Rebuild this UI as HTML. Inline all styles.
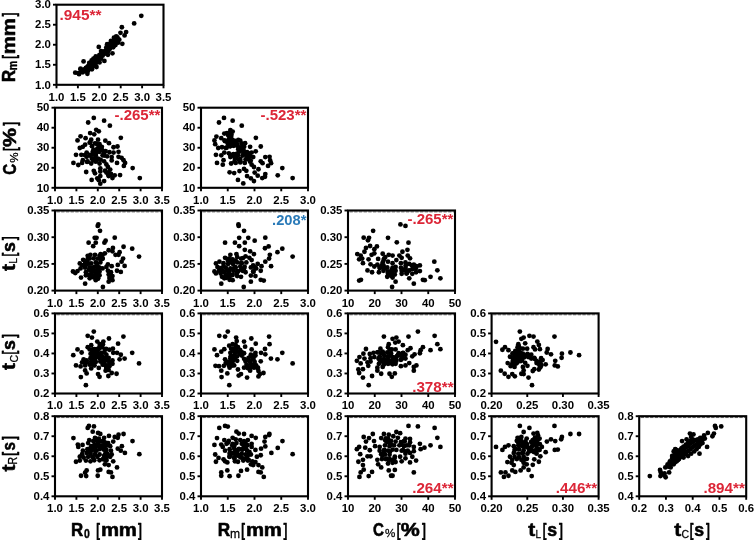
<!DOCTYPE html><html><head><meta charset="utf-8"><title>Scatterplot matrix</title><style>html,body{margin:0;padding:0;background:#fff}svg{display:block;will-change:transform}</style></head><body><svg width="754" height="540" viewBox="0 0 754 540">
<rect width="754" height="540" fill="#fff"/>
<g font-family="Liberation Sans, sans-serif" font-weight="bold" fill="#000">
<g>
<circle cx="141.30" cy="15.84" r="2.4"/>
<circle cx="134.16" cy="23.44" r="2.4"/>
<circle cx="121.86" cy="27.23" r="2.4"/>
<circle cx="126.11" cy="32.09" r="2.4"/>
<circle cx="120.49" cy="32.85" r="2.4"/>
<circle cx="124.59" cy="35.43" r="2.4"/>
<circle cx="116.24" cy="36.34" r="2.4"/>
<circle cx="113.96" cy="37.71" r="2.4"/>
<circle cx="119.28" cy="39.69" r="2.4"/>
<circle cx="122.31" cy="43.79" r="2.4"/>
<circle cx="118.06" cy="42.72" r="2.4"/>
<circle cx="110.93" cy="40.90" r="2.4"/>
<circle cx="115.48" cy="45.00" r="2.4"/>
<circle cx="107.13" cy="44.24" r="2.4"/>
<circle cx="113.20" cy="47.28" r="2.4"/>
<circle cx="98.78" cy="46.97" r="2.4"/>
<circle cx="109.41" cy="49.56" r="2.4"/>
<circle cx="112.44" cy="53.35" r="2.4"/>
<circle cx="105.61" cy="51.07" r="2.4"/>
<circle cx="101.06" cy="51.07" r="2.4"/>
<circle cx="107.89" cy="54.87" r="2.4"/>
<circle cx="103.79" cy="54.11" r="2.4"/>
<circle cx="99.54" cy="54.87" r="2.4"/>
<circle cx="95.74" cy="56.39" r="2.4"/>
<circle cx="104.40" cy="60.94" r="2.4"/>
<circle cx="101.06" cy="58.67" r="2.4"/>
<circle cx="97.26" cy="59.43" r="2.4"/>
<circle cx="93.46" cy="58.67" r="2.4"/>
<circle cx="83.59" cy="61.40" r="2.4"/>
<circle cx="91.94" cy="62.46" r="2.4"/>
<circle cx="95.74" cy="63.22" r="2.4"/>
<circle cx="99.54" cy="62.46" r="2.4"/>
<circle cx="89.67" cy="64.74" r="2.4"/>
<circle cx="93.46" cy="66.26" r="2.4"/>
<circle cx="87.39" cy="67.02" r="2.4"/>
<circle cx="96.50" cy="67.02" r="2.4"/>
<circle cx="80.56" cy="68.54" r="2.4"/>
<circle cx="84.35" cy="69.30" r="2.4"/>
<circle cx="88.15" cy="70.81" r="2.4"/>
<circle cx="91.94" cy="69.30" r="2.4"/>
<circle cx="75.24" cy="72.64" r="2.4"/>
<circle cx="79.04" cy="74.16" r="2.4"/>
<circle cx="82.83" cy="72.33" r="2.4"/>
<circle cx="87.39" cy="73.85" r="2.4"/>
<circle cx="85.87" cy="70.81" r="2.4"/>
<circle cx="78.28" cy="73.09" r="2.4"/>
<circle cx="81.31" cy="71.57" r="2.4"/>
<circle cx="83.59" cy="70.06" r="2.4"/>
<circle cx="85.87" cy="67.78" r="2.4"/>
<circle cx="88.15" cy="66.26" r="2.4"/>
<circle cx="90.43" cy="63.98" r="2.4"/>
<circle cx="92.70" cy="61.70" r="2.4"/>
<circle cx="94.98" cy="59.88" r="2.4"/>
<circle cx="97.26" cy="57.45" r="2.4"/>
<circle cx="99.54" cy="55.63" r="2.4"/>
<circle cx="101.81" cy="53.35" r="2.4"/>
<circle cx="104.09" cy="51.38" r="2.4"/>
<circle cx="106.37" cy="49.25" r="2.4"/>
<circle cx="108.65" cy="47.28" r="2.4"/>
<circle cx="110.93" cy="45.00" r="2.4"/>
<circle cx="113.20" cy="42.72" r="2.4"/>
<circle cx="115.48" cy="40.44" r="2.4"/>
<circle cx="90.43" cy="67.78" r="2.4"/>
<circle cx="92.70" cy="65.50" r="2.4"/>
<circle cx="94.98" cy="64.74" r="2.4"/>
<circle cx="98.02" cy="61.70" r="2.4"/>
<circle cx="101.06" cy="56.39" r="2.4"/>
<circle cx="102.57" cy="55.63" r="2.4"/>
<circle cx="105.61" cy="53.35" r="2.4"/>
<circle cx="107.89" cy="51.83" r="2.4"/>
<circle cx="110.17" cy="48.04" r="2.4"/>
<circle cx="111.99" cy="46.52" r="2.4"/>
<circle cx="114.42" cy="43.79" r="2.4"/>
<circle cx="116.54" cy="41.96" r="2.4"/>
<circle cx="91.64" cy="60.49" r="2.4"/>
<circle cx="89.21" cy="62.92" r="2.4"/>
<circle cx="95.29" cy="57.91" r="2.4"/>
<circle cx="101.06" cy="54.11" r="2.4"/>
<circle cx="106.37" cy="47.28" r="2.4"/>
<circle cx="108.65" cy="44.24" r="2.4"/>
<circle cx="111.69" cy="41.96" r="2.4"/>
<circle cx="114.72" cy="39.23" r="2.4"/>
<circle cx="117.46" cy="37.41" r="2.4"/>
<circle cx="91.32" cy="65.73" r="2.4"/>
<circle cx="116.06" cy="40.73" r="2.4"/>
<circle cx="115.10" cy="38.47" r="2.4"/>
<circle cx="80.51" cy="69.36" r="2.4"/>
</g>
<rect x="56.50" y="4.70" width="107.00" height="80.10" fill="none" stroke="#000" stroke-width="2.1"/>
<line x1="56.50" y1="85.30" x2="56.50" y2="88.30" stroke="#000" stroke-width="1.9"/>
<text x="56.50" y="100.70" font-size="11.4" text-anchor="middle">1.0</text>
<line x1="77.90" y1="85.30" x2="77.90" y2="88.30" stroke="#000" stroke-width="1.9"/>
<text x="77.90" y="100.70" font-size="11.4" text-anchor="middle">1.5</text>
<line x1="99.30" y1="85.30" x2="99.30" y2="88.30" stroke="#000" stroke-width="1.9"/>
<text x="99.30" y="100.70" font-size="11.4" text-anchor="middle">2.0</text>
<line x1="120.70" y1="85.30" x2="120.70" y2="88.30" stroke="#000" stroke-width="1.9"/>
<text x="120.70" y="100.70" font-size="11.4" text-anchor="middle">2.5</text>
<line x1="142.10" y1="85.30" x2="142.10" y2="88.30" stroke="#000" stroke-width="1.9"/>
<text x="142.10" y="100.70" font-size="11.4" text-anchor="middle">3.0</text>
<line x1="163.50" y1="85.30" x2="163.50" y2="88.30" stroke="#000" stroke-width="1.9"/>
<text x="163.50" y="100.70" font-size="11.4" text-anchor="middle">3.5</text>
<line x1="56.00" y1="84.80" x2="53.00" y2="84.80" stroke="#000" stroke-width="1.9"/>
<text x="50.90" y="88.50" font-size="11.4" text-anchor="end">1.0</text>
<line x1="56.00" y1="64.78" x2="53.00" y2="64.78" stroke="#000" stroke-width="1.9"/>
<text x="50.90" y="68.48" font-size="11.4" text-anchor="end">1.5</text>
<line x1="56.00" y1="44.75" x2="53.00" y2="44.75" stroke="#000" stroke-width="1.9"/>
<text x="50.90" y="48.45" font-size="11.4" text-anchor="end">2.0</text>
<line x1="56.00" y1="24.73" x2="53.00" y2="24.73" stroke="#000" stroke-width="1.9"/>
<text x="50.90" y="28.43" font-size="11.4" text-anchor="end">2.5</text>
<line x1="56.00" y1="4.70" x2="53.00" y2="4.70" stroke="#000" stroke-width="1.9"/>
<text x="50.90" y="8.40" font-size="11.4" text-anchor="end">3.0</text>
<text x="59.50" y="19.60" font-size="15.4" fill="#dc2637">.945**</text>
<g>
<circle cx="93.79" cy="117.93" r="2.4"/>
<circle cx="88.17" cy="122.49" r="2.4"/>
<circle cx="104.11" cy="120.67" r="2.4"/>
<circle cx="109.88" cy="125.68" r="2.4"/>
<circle cx="120.81" cy="137.83" r="2.4"/>
<circle cx="96.21" cy="129.78" r="2.4"/>
<circle cx="98.80" cy="131.30" r="2.4"/>
<circle cx="90.14" cy="133.12" r="2.4"/>
<circle cx="94.24" cy="134.33" r="2.4"/>
<circle cx="80.57" cy="136.31" r="2.4"/>
<circle cx="85.59" cy="138.13" r="2.4"/>
<circle cx="77.54" cy="140.41" r="2.4"/>
<circle cx="91.20" cy="139.65" r="2.4"/>
<circle cx="98.04" cy="139.65" r="2.4"/>
<circle cx="105.33" cy="140.71" r="2.4"/>
<circle cx="108.97" cy="143.14" r="2.4"/>
<circle cx="89.69" cy="142.69" r="2.4"/>
<circle cx="95.00" cy="143.44" r="2.4"/>
<circle cx="99.56" cy="144.20" r="2.4"/>
<circle cx="85.13" cy="144.66" r="2.4"/>
<circle cx="82.85" cy="146.79" r="2.4"/>
<circle cx="79.81" cy="148.00" r="2.4"/>
<circle cx="91.96" cy="146.18" r="2.4"/>
<circle cx="101.83" cy="146.79" r="2.4"/>
<circle cx="113.53" cy="147.24" r="2.4"/>
<circle cx="117.47" cy="146.48" r="2.4"/>
<circle cx="97.28" cy="148.76" r="2.4"/>
<circle cx="118.54" cy="151.80" r="2.4"/>
<circle cx="105.63" cy="151.04" r="2.4"/>
<circle cx="109.43" cy="152.25" r="2.4"/>
<circle cx="113.53" cy="152.56" r="2.4"/>
<circle cx="99.56" cy="151.80" r="2.4"/>
<circle cx="92.72" cy="151.80" r="2.4"/>
<circle cx="86.65" cy="152.56" r="2.4"/>
<circle cx="81.33" cy="154.83" r="2.4"/>
<circle cx="76.02" cy="154.83" r="2.4"/>
<circle cx="89.69" cy="154.83" r="2.4"/>
<circle cx="95.76" cy="155.59" r="2.4"/>
<circle cx="102.59" cy="155.29" r="2.4"/>
<circle cx="107.15" cy="156.35" r="2.4"/>
<circle cx="111.70" cy="157.11" r="2.4"/>
<circle cx="118.54" cy="156.81" r="2.4"/>
<circle cx="121.57" cy="157.87" r="2.4"/>
<circle cx="86.65" cy="156.81" r="2.4"/>
<circle cx="91.96" cy="158.63" r="2.4"/>
<circle cx="98.04" cy="158.63" r="2.4"/>
<circle cx="82.85" cy="160.15" r="2.4"/>
<circle cx="73.44" cy="162.88" r="2.4"/>
<circle cx="82.09" cy="162.88" r="2.4"/>
<circle cx="78.30" cy="165.01" r="2.4"/>
<circle cx="87.10" cy="161.97" r="2.4"/>
<circle cx="91.20" cy="163.49" r="2.4"/>
<circle cx="95.76" cy="161.67" r="2.4"/>
<circle cx="99.56" cy="163.49" r="2.4"/>
<circle cx="104.11" cy="161.36" r="2.4"/>
<circle cx="106.39" cy="164.40" r="2.4"/>
<circle cx="111.70" cy="160.45" r="2.4"/>
<circle cx="117.02" cy="162.88" r="2.4"/>
<circle cx="123.55" cy="160.15" r="2.4"/>
<circle cx="125.07" cy="162.88" r="2.4"/>
<circle cx="123.85" cy="165.92" r="2.4"/>
<circle cx="132.66" cy="168.04" r="2.4"/>
<circle cx="139.80" cy="178.07" r="2.4"/>
<circle cx="107.91" cy="166.98" r="2.4"/>
<circle cx="110.19" cy="169.56" r="2.4"/>
<circle cx="100.31" cy="168.50" r="2.4"/>
<circle cx="100.31" cy="171.54" r="2.4"/>
<circle cx="93.79" cy="170.78" r="2.4"/>
<circle cx="95.00" cy="173.36" r="2.4"/>
<circle cx="86.19" cy="171.99" r="2.4"/>
<circle cx="106.39" cy="172.60" r="2.4"/>
<circle cx="110.94" cy="173.81" r="2.4"/>
<circle cx="114.74" cy="175.33" r="2.4"/>
<circle cx="120.06" cy="175.03" r="2.4"/>
<circle cx="108.67" cy="176.09" r="2.4"/>
<circle cx="112.46" cy="178.07" r="2.4"/>
<circle cx="100.31" cy="176.09" r="2.4"/>
<circle cx="97.28" cy="178.37" r="2.4"/>
<circle cx="91.66" cy="179.89" r="2.4"/>
<circle cx="98.80" cy="180.19" r="2.4"/>
<circle cx="104.11" cy="181.10" r="2.4"/>
<circle cx="100.31" cy="183.69" r="2.4"/>
<circle cx="99.44" cy="148.49" r="2.4"/>
<circle cx="110.44" cy="174.73" r="2.4"/>
<circle cx="92.59" cy="154.68" r="2.4"/>
<circle cx="104.32" cy="155.48" r="2.4"/>
<circle cx="96.91" cy="150.63" r="2.4"/>
<circle cx="87.61" cy="161.44" r="2.4"/>
<circle cx="94.65" cy="159.10" r="2.4"/>
<circle cx="96.31" cy="143.65" r="2.4"/>
<circle cx="98.59" cy="145.72" r="2.4"/>
<circle cx="102.21" cy="150.17" r="2.4"/>
<circle cx="93.48" cy="149.57" r="2.4"/>
<circle cx="105.05" cy="170.75" r="2.4"/>
<circle cx="96.47" cy="160.42" r="2.4"/>
<circle cx="84.75" cy="155.08" r="2.4"/>
<circle cx="93.55" cy="160.40" r="2.4"/>
<circle cx="108.42" cy="172.30" r="2.4"/>
<circle cx="100.62" cy="159.68" r="2.4"/>
<circle cx="108.19" cy="174.67" r="2.4"/>
<circle cx="90.30" cy="142.24" r="2.4"/>
<circle cx="89.77" cy="155.48" r="2.4"/>
<circle cx="103.94" cy="153.30" r="2.4"/>
<circle cx="96.09" cy="153.57" r="2.4"/>
<circle cx="98.92" cy="151.39" r="2.4"/>
<circle cx="95.34" cy="155.60" r="2.4"/>
</g>
<rect x="55.00" y="107.70" width="107.00" height="80.10" fill="none" stroke="#000" stroke-width="2.1"/>
<line x1="55.00" y1="188.30" x2="55.00" y2="191.30" stroke="#000" stroke-width="1.9"/>
<text x="55.00" y="203.70" font-size="11.4" text-anchor="middle">1.0</text>
<line x1="76.40" y1="188.30" x2="76.40" y2="191.30" stroke="#000" stroke-width="1.9"/>
<text x="76.40" y="203.70" font-size="11.4" text-anchor="middle">1.5</text>
<line x1="97.80" y1="188.30" x2="97.80" y2="191.30" stroke="#000" stroke-width="1.9"/>
<text x="97.80" y="203.70" font-size="11.4" text-anchor="middle">2.0</text>
<line x1="119.20" y1="188.30" x2="119.20" y2="191.30" stroke="#000" stroke-width="1.9"/>
<text x="119.20" y="203.70" font-size="11.4" text-anchor="middle">2.5</text>
<line x1="140.60" y1="188.30" x2="140.60" y2="191.30" stroke="#000" stroke-width="1.9"/>
<text x="140.60" y="203.70" font-size="11.4" text-anchor="middle">3.0</text>
<line x1="162.00" y1="188.30" x2="162.00" y2="191.30" stroke="#000" stroke-width="1.9"/>
<text x="162.00" y="203.70" font-size="11.4" text-anchor="middle">3.5</text>
<line x1="54.50" y1="187.80" x2="51.50" y2="187.80" stroke="#000" stroke-width="1.9"/>
<text x="49.40" y="191.50" font-size="11.4" text-anchor="end">10</text>
<line x1="54.50" y1="167.78" x2="51.50" y2="167.78" stroke="#000" stroke-width="1.9"/>
<text x="49.40" y="171.47" font-size="11.4" text-anchor="end">20</text>
<line x1="54.50" y1="147.75" x2="51.50" y2="147.75" stroke="#000" stroke-width="1.9"/>
<text x="49.40" y="151.45" font-size="11.4" text-anchor="end">30</text>
<line x1="54.50" y1="127.73" x2="51.50" y2="127.73" stroke="#000" stroke-width="1.9"/>
<text x="49.40" y="131.43" font-size="11.4" text-anchor="end">40</text>
<line x1="54.50" y1="107.70" x2="51.50" y2="107.70" stroke="#000" stroke-width="1.9"/>
<text x="49.40" y="111.40" font-size="11.4" text-anchor="end">50</text>
<text x="160.40" y="120.10" font-size="15.0" fill="#dc2637" text-anchor="end">-.265**</text>
<g>
<circle cx="223.99" cy="117.93" r="2.4"/>
<circle cx="218.98" cy="122.49" r="2.4"/>
<circle cx="232.65" cy="120.67" r="2.4"/>
<circle cx="241.76" cy="125.68" r="2.4"/>
<circle cx="255.88" cy="137.83" r="2.4"/>
<circle cx="230.37" cy="130.08" r="2.4"/>
<circle cx="232.65" cy="131.60" r="2.4"/>
<circle cx="224.30" cy="133.57" r="2.4"/>
<circle cx="228.09" cy="135.09" r="2.4"/>
<circle cx="216.40" cy="136.61" r="2.4"/>
<circle cx="221.26" cy="138.13" r="2.4"/>
<circle cx="214.43" cy="140.41" r="2.4"/>
<circle cx="215.19" cy="144.20" r="2.4"/>
<circle cx="225.06" cy="141.17" r="2.4"/>
<circle cx="231.89" cy="139.65" r="2.4"/>
<circle cx="235.69" cy="141.93" r="2.4"/>
<circle cx="240.24" cy="140.71" r="2.4"/>
<circle cx="245.10" cy="143.14" r="2.4"/>
<circle cx="228.09" cy="143.44" r="2.4"/>
<circle cx="232.65" cy="144.96" r="2.4"/>
<circle cx="237.20" cy="145.72" r="2.4"/>
<circle cx="250.11" cy="146.79" r="2.4"/>
<circle cx="260.74" cy="146.48" r="2.4"/>
<circle cx="218.22" cy="148.00" r="2.4"/>
<circle cx="222.02" cy="147.24" r="2.4"/>
<circle cx="226.57" cy="147.70" r="2.4"/>
<circle cx="238.72" cy="148.76" r="2.4"/>
<circle cx="243.28" cy="151.04" r="2.4"/>
<circle cx="247.07" cy="152.25" r="2.4"/>
<circle cx="251.63" cy="152.56" r="2.4"/>
<circle cx="255.73" cy="151.34" r="2.4"/>
<circle cx="224.30" cy="152.56" r="2.4"/>
<circle cx="228.85" cy="153.31" r="2.4"/>
<circle cx="215.94" cy="154.83" r="2.4"/>
<circle cx="221.26" cy="155.29" r="2.4"/>
<circle cx="233.41" cy="154.07" r="2.4"/>
<circle cx="237.96" cy="155.29" r="2.4"/>
<circle cx="242.52" cy="155.59" r="2.4"/>
<circle cx="248.59" cy="155.90" r="2.4"/>
<circle cx="253.15" cy="157.11" r="2.4"/>
<circle cx="265.30" cy="157.11" r="2.4"/>
<circle cx="269.55" cy="156.81" r="2.4"/>
<circle cx="230.37" cy="157.11" r="2.4"/>
<circle cx="234.93" cy="158.63" r="2.4"/>
<circle cx="240.24" cy="158.93" r="2.4"/>
<circle cx="245.56" cy="159.39" r="2.4"/>
<circle cx="223.54" cy="160.15" r="2.4"/>
<circle cx="217.01" cy="162.88" r="2.4"/>
<circle cx="222.78" cy="164.70" r="2.4"/>
<circle cx="231.13" cy="163.49" r="2.4"/>
<circle cx="235.69" cy="162.88" r="2.4"/>
<circle cx="240.24" cy="162.43" r="2.4"/>
<circle cx="244.80" cy="162.88" r="2.4"/>
<circle cx="250.11" cy="161.67" r="2.4"/>
<circle cx="251.63" cy="164.70" r="2.4"/>
<circle cx="260.74" cy="161.36" r="2.4"/>
<circle cx="262.56" cy="163.19" r="2.4"/>
<circle cx="270.16" cy="160.45" r="2.4"/>
<circle cx="271.07" cy="163.19" r="2.4"/>
<circle cx="268.03" cy="165.92" r="2.4"/>
<circle cx="282.30" cy="168.04" r="2.4"/>
<circle cx="292.63" cy="178.07" r="2.4"/>
<circle cx="277.75" cy="175.33" r="2.4"/>
<circle cx="253.91" cy="166.98" r="2.4"/>
<circle cx="258.46" cy="169.26" r="2.4"/>
<circle cx="244.04" cy="168.96" r="2.4"/>
<circle cx="246.31" cy="170.78" r="2.4"/>
<circle cx="239.48" cy="171.08" r="2.4"/>
<circle cx="234.17" cy="173.06" r="2.4"/>
<circle cx="229.61" cy="172.30" r="2.4"/>
<circle cx="254.67" cy="172.60" r="2.4"/>
<circle cx="257.70" cy="175.64" r="2.4"/>
<circle cx="262.26" cy="178.07" r="2.4"/>
<circle cx="265.30" cy="174.12" r="2.4"/>
<circle cx="264.99" cy="176.85" r="2.4"/>
<circle cx="247.07" cy="176.09" r="2.4"/>
<circle cx="250.87" cy="178.37" r="2.4"/>
<circle cx="237.96" cy="179.89" r="2.4"/>
<circle cx="253.91" cy="181.10" r="2.4"/>
<circle cx="243.28" cy="183.38" r="2.4"/>
<circle cx="229.17" cy="132.92" r="2.4"/>
<circle cx="230.00" cy="135.83" r="2.4"/>
<circle cx="228.75" cy="139.17" r="2.4"/>
<circle cx="232.50" cy="140.00" r="2.4"/>
<circle cx="227.50" cy="142.50" r="2.4"/>
<circle cx="230.83" cy="143.33" r="2.4"/>
<circle cx="234.17" cy="142.50" r="2.4"/>
<circle cx="236.67" cy="141.67" r="2.4"/>
<circle cx="233.75" cy="145.83" r="2.4"/>
<circle cx="230.00" cy="146.25" r="2.4"/>
<circle cx="237.50" cy="145.00" r="2.4"/>
<circle cx="240.00" cy="148.33" r="2.4"/>
<circle cx="225.83" cy="147.92" r="2.4"/>
<circle cx="238.33" cy="140.00" r="2.4"/>
<circle cx="241.67" cy="143.33" r="2.4"/>
<circle cx="244.17" cy="146.67" r="2.4"/>
<circle cx="242.50" cy="150.00" r="2.4"/>
<circle cx="239.17" cy="151.67" r="2.4"/>
<circle cx="232.77" cy="145.10" r="2.4"/>
<circle cx="230.99" cy="136.57" r="2.4"/>
<circle cx="230.64" cy="140.96" r="2.4"/>
<circle cx="230.59" cy="155.23" r="2.4"/>
<circle cx="241.59" cy="147.21" r="2.4"/>
<circle cx="228.20" cy="141.41" r="2.4"/>
<circle cx="229.59" cy="143.00" r="2.4"/>
<circle cx="230.43" cy="146.04" r="2.4"/>
<circle cx="243.58" cy="150.27" r="2.4"/>
<circle cx="236.56" cy="153.92" r="2.4"/>
<circle cx="246.83" cy="156.71" r="2.4"/>
<circle cx="234.50" cy="161.56" r="2.4"/>
<circle cx="239.21" cy="147.69" r="2.4"/>
<circle cx="228.25" cy="144.22" r="2.4"/>
<circle cx="231.46" cy="134.72" r="2.4"/>
<circle cx="249.82" cy="155.99" r="2.4"/>
<circle cx="232.15" cy="141.00" r="2.4"/>
<circle cx="229.63" cy="139.70" r="2.4"/>
<circle cx="234.48" cy="143.04" r="2.4"/>
<circle cx="232.17" cy="155.70" r="2.4"/>
<circle cx="233.45" cy="154.41" r="2.4"/>
<circle cx="245.65" cy="154.77" r="2.4"/>
<circle cx="235.94" cy="155.63" r="2.4"/>
<circle cx="238.30" cy="149.26" r="2.4"/>
<circle cx="239.06" cy="151.37" r="2.4"/>
<circle cx="228.48" cy="134.50" r="2.4"/>
<circle cx="249.30" cy="153.32" r="2.4"/>
<circle cx="243.32" cy="153.10" r="2.4"/>
<circle cx="239.28" cy="160.27" r="2.4"/>
<circle cx="226.94" cy="133.14" r="2.4"/>
<circle cx="240.43" cy="161.38" r="2.4"/>
<circle cx="224.59" cy="140.48" r="2.4"/>
<circle cx="235.13" cy="140.89" r="2.4"/>
<circle cx="248.35" cy="159.31" r="2.4"/>
<circle cx="236.48" cy="157.93" r="2.4"/>
<circle cx="250.70" cy="160.50" r="2.4"/>
</g>
<rect x="201.00" y="107.70" width="107.00" height="80.10" fill="none" stroke="#000" stroke-width="2.1"/>
<line x1="201.00" y1="188.30" x2="201.00" y2="191.30" stroke="#000" stroke-width="1.9"/>
<text x="201.00" y="203.70" font-size="11.4" text-anchor="middle">1.0</text>
<line x1="227.75" y1="188.30" x2="227.75" y2="191.30" stroke="#000" stroke-width="1.9"/>
<text x="227.75" y="203.70" font-size="11.4" text-anchor="middle">1.5</text>
<line x1="254.50" y1="188.30" x2="254.50" y2="191.30" stroke="#000" stroke-width="1.9"/>
<text x="254.50" y="203.70" font-size="11.4" text-anchor="middle">2.0</text>
<line x1="281.25" y1="188.30" x2="281.25" y2="191.30" stroke="#000" stroke-width="1.9"/>
<text x="281.25" y="203.70" font-size="11.4" text-anchor="middle">2.5</text>
<line x1="308.00" y1="188.30" x2="308.00" y2="191.30" stroke="#000" stroke-width="1.9"/>
<text x="308.00" y="203.70" font-size="11.4" text-anchor="middle">3.0</text>
<line x1="200.50" y1="187.80" x2="197.50" y2="187.80" stroke="#000" stroke-width="1.9"/>
<text x="195.40" y="191.50" font-size="11.4" text-anchor="end">10</text>
<line x1="200.50" y1="167.78" x2="197.50" y2="167.78" stroke="#000" stroke-width="1.9"/>
<text x="195.40" y="171.47" font-size="11.4" text-anchor="end">20</text>
<line x1="200.50" y1="147.75" x2="197.50" y2="147.75" stroke="#000" stroke-width="1.9"/>
<text x="195.40" y="151.45" font-size="11.4" text-anchor="end">30</text>
<line x1="200.50" y1="127.73" x2="197.50" y2="127.73" stroke="#000" stroke-width="1.9"/>
<text x="195.40" y="131.43" font-size="11.4" text-anchor="end">40</text>
<line x1="200.50" y1="107.70" x2="197.50" y2="107.70" stroke="#000" stroke-width="1.9"/>
<text x="195.40" y="111.40" font-size="11.4" text-anchor="end">50</text>
<text x="306.40" y="120.20" font-size="15.0" fill="#dc2637" text-anchor="end">-.523**</text>
<g>
<circle cx="98.34" cy="224.43" r="2.4"/>
<circle cx="97.73" cy="225.94" r="2.4"/>
<circle cx="100.01" cy="230.80" r="2.4"/>
<circle cx="114.74" cy="237.64" r="2.4"/>
<circle cx="94.70" cy="237.79" r="2.4"/>
<circle cx="96.52" cy="237.79" r="2.4"/>
<circle cx="105.63" cy="240.67" r="2.4"/>
<circle cx="104.41" cy="242.65" r="2.4"/>
<circle cx="88.62" cy="242.65" r="2.4"/>
<circle cx="95.76" cy="242.65" r="2.4"/>
<circle cx="93.18" cy="246.14" r="2.4"/>
<circle cx="123.55" cy="246.75" r="2.4"/>
<circle cx="132.20" cy="248.72" r="2.4"/>
<circle cx="139.04" cy="256.62" r="2.4"/>
<circle cx="112.92" cy="247.96" r="2.4"/>
<circle cx="108.67" cy="250.24" r="2.4"/>
<circle cx="112.46" cy="251.30" r="2.4"/>
<circle cx="119.60" cy="252.21" r="2.4"/>
<circle cx="115.50" cy="254.80" r="2.4"/>
<circle cx="118.54" cy="254.80" r="2.4"/>
<circle cx="104.87" cy="253.28" r="2.4"/>
<circle cx="102.59" cy="254.80" r="2.4"/>
<circle cx="99.56" cy="255.56" r="2.4"/>
<circle cx="95.00" cy="254.80" r="2.4"/>
<circle cx="90.44" cy="254.80" r="2.4"/>
<circle cx="87.71" cy="255.86" r="2.4"/>
<circle cx="123.09" cy="258.59" r="2.4"/>
<circle cx="121.57" cy="261.63" r="2.4"/>
<circle cx="102.59" cy="258.59" r="2.4"/>
<circle cx="98.04" cy="258.59" r="2.4"/>
<circle cx="93.79" cy="258.29" r="2.4"/>
<circle cx="89.69" cy="258.59" r="2.4"/>
<circle cx="83.16" cy="259.81" r="2.4"/>
<circle cx="85.89" cy="261.63" r="2.4"/>
<circle cx="79.81" cy="263.45" r="2.4"/>
<circle cx="82.09" cy="265.43" r="2.4"/>
<circle cx="86.65" cy="264.67" r="2.4"/>
<circle cx="91.20" cy="263.45" r="2.4"/>
<circle cx="95.76" cy="262.39" r="2.4"/>
<circle cx="100.31" cy="262.39" r="2.4"/>
<circle cx="107.91" cy="264.36" r="2.4"/>
<circle cx="111.70" cy="266.19" r="2.4"/>
<circle cx="106.39" cy="266.94" r="2.4"/>
<circle cx="117.78" cy="264.97" r="2.4"/>
<circle cx="124.61" cy="265.88" r="2.4"/>
<circle cx="80.57" cy="268.46" r="2.4"/>
<circle cx="85.13" cy="267.70" r="2.4"/>
<circle cx="89.69" cy="267.40" r="2.4"/>
<circle cx="94.24" cy="266.94" r="2.4"/>
<circle cx="98.80" cy="267.40" r="2.4"/>
<circle cx="102.59" cy="268.46" r="2.4"/>
<circle cx="72.98" cy="271.50" r="2.4"/>
<circle cx="77.54" cy="271.04" r="2.4"/>
<circle cx="75.26" cy="273.02" r="2.4"/>
<circle cx="85.89" cy="272.26" r="2.4"/>
<circle cx="90.44" cy="270.74" r="2.4"/>
<circle cx="95.00" cy="270.74" r="2.4"/>
<circle cx="99.56" cy="271.50" r="2.4"/>
<circle cx="107.91" cy="270.74" r="2.4"/>
<circle cx="110.94" cy="272.26" r="2.4"/>
<circle cx="117.02" cy="270.74" r="2.4"/>
<circle cx="120.81" cy="271.96" r="2.4"/>
<circle cx="85.89" cy="275.30" r="2.4"/>
<circle cx="91.20" cy="274.54" r="2.4"/>
<circle cx="95.76" cy="274.54" r="2.4"/>
<circle cx="99.56" cy="275.30" r="2.4"/>
<circle cx="108.67" cy="274.54" r="2.4"/>
<circle cx="112.46" cy="276.06" r="2.4"/>
<circle cx="81.03" cy="277.57" r="2.4"/>
<circle cx="89.69" cy="278.33" r="2.4"/>
<circle cx="94.24" cy="277.57" r="2.4"/>
<circle cx="98.04" cy="278.33" r="2.4"/>
<circle cx="109.43" cy="278.03" r="2.4"/>
<circle cx="112.46" cy="280.16" r="2.4"/>
<circle cx="95.76" cy="280.16" r="2.4"/>
<circle cx="108.67" cy="281.67" r="2.4"/>
<circle cx="85.13" cy="283.65" r="2.4"/>
<circle cx="102.90" cy="286.99" r="2.4"/>
<circle cx="96.53" cy="273.17" r="2.4"/>
<circle cx="87.93" cy="258.28" r="2.4"/>
<circle cx="85.13" cy="261.97" r="2.4"/>
<circle cx="86.82" cy="260.92" r="2.4"/>
<circle cx="92.83" cy="271.12" r="2.4"/>
<circle cx="83.46" cy="265.12" r="2.4"/>
<circle cx="97.96" cy="278.72" r="2.4"/>
<circle cx="102.58" cy="258.58" r="2.4"/>
<circle cx="91.43" cy="267.59" r="2.4"/>
<circle cx="91.71" cy="275.04" r="2.4"/>
<circle cx="88.28" cy="274.92" r="2.4"/>
<circle cx="98.12" cy="273.93" r="2.4"/>
<circle cx="88.78" cy="263.35" r="2.4"/>
<circle cx="93.17" cy="277.11" r="2.4"/>
<circle cx="95.64" cy="276.55" r="2.4"/>
<circle cx="101.14" cy="259.42" r="2.4"/>
<circle cx="110.34" cy="272.90" r="2.4"/>
<circle cx="100.98" cy="256.35" r="2.4"/>
<circle cx="96.88" cy="270.91" r="2.4"/>
<circle cx="93.75" cy="275.52" r="2.4"/>
<circle cx="99.70" cy="267.86" r="2.4"/>
<circle cx="109.79" cy="275.41" r="2.4"/>
<circle cx="97.43" cy="267.19" r="2.4"/>
<circle cx="100.63" cy="254.13" r="2.4"/>
<circle cx="97.86" cy="277.13" r="2.4"/>
<circle cx="96.02" cy="262.60" r="2.4"/>
<circle cx="97.17" cy="264.92" r="2.4"/>
<circle cx="89.08" cy="269.63" r="2.4"/>
</g>
<rect x="55.00" y="210.50" width="107.00" height="80.10" fill="none" stroke="#000" stroke-width="2.1"/>
<line x1="56.50" y1="211.85" x2="161.00" y2="211.85" stroke="#333" stroke-width="0.8" stroke-dasharray="3.3 1.4"/>
<line x1="55.00" y1="291.10" x2="55.00" y2="294.10" stroke="#000" stroke-width="1.9"/>
<text x="55.00" y="306.50" font-size="11.4" text-anchor="middle">1.0</text>
<line x1="76.40" y1="291.10" x2="76.40" y2="294.10" stroke="#000" stroke-width="1.9"/>
<text x="76.40" y="306.50" font-size="11.4" text-anchor="middle">1.5</text>
<line x1="97.80" y1="291.10" x2="97.80" y2="294.10" stroke="#000" stroke-width="1.9"/>
<text x="97.80" y="306.50" font-size="11.4" text-anchor="middle">2.0</text>
<line x1="119.20" y1="291.10" x2="119.20" y2="294.10" stroke="#000" stroke-width="1.9"/>
<text x="119.20" y="306.50" font-size="11.4" text-anchor="middle">2.5</text>
<line x1="140.60" y1="291.10" x2="140.60" y2="294.10" stroke="#000" stroke-width="1.9"/>
<text x="140.60" y="306.50" font-size="11.4" text-anchor="middle">3.0</text>
<line x1="162.00" y1="291.10" x2="162.00" y2="294.10" stroke="#000" stroke-width="1.9"/>
<text x="162.00" y="306.50" font-size="11.4" text-anchor="middle">3.5</text>
<line x1="54.50" y1="290.60" x2="51.50" y2="290.60" stroke="#000" stroke-width="1.9"/>
<text x="49.40" y="294.30" font-size="11.4" text-anchor="end">0.20</text>
<line x1="54.50" y1="263.90" x2="51.50" y2="263.90" stroke="#000" stroke-width="1.9"/>
<text x="49.40" y="267.60" font-size="11.4" text-anchor="end">0.25</text>
<line x1="54.50" y1="237.20" x2="51.50" y2="237.20" stroke="#000" stroke-width="1.9"/>
<text x="49.40" y="240.90" font-size="11.4" text-anchor="end">0.30</text>
<line x1="54.50" y1="210.50" x2="51.50" y2="210.50" stroke="#000" stroke-width="1.9"/>
<text x="49.40" y="214.20" font-size="11.4" text-anchor="end">0.35</text>
<g>
<circle cx="238.42" cy="224.43" r="2.4"/>
<circle cx="238.72" cy="225.94" r="2.4"/>
<circle cx="244.04" cy="230.80" r="2.4"/>
<circle cx="265.30" cy="237.64" r="2.4"/>
<circle cx="239.18" cy="237.79" r="2.4"/>
<circle cx="248.29" cy="237.79" r="2.4"/>
<circle cx="254.67" cy="240.67" r="2.4"/>
<circle cx="225.06" cy="242.65" r="2.4"/>
<circle cx="234.93" cy="242.65" r="2.4"/>
<circle cx="244.80" cy="242.65" r="2.4"/>
<circle cx="239.18" cy="246.14" r="2.4"/>
<circle cx="268.64" cy="246.44" r="2.4"/>
<circle cx="264.99" cy="248.27" r="2.4"/>
<circle cx="282.30" cy="248.72" r="2.4"/>
<circle cx="277.44" cy="252.21" r="2.4"/>
<circle cx="292.63" cy="256.62" r="2.4"/>
<circle cx="244.80" cy="249.79" r="2.4"/>
<circle cx="250.11" cy="251.30" r="2.4"/>
<circle cx="253.91" cy="254.04" r="2.4"/>
<circle cx="236.44" cy="254.04" r="2.4"/>
<circle cx="230.37" cy="254.80" r="2.4"/>
<circle cx="269.85" cy="254.80" r="2.4"/>
<circle cx="269.09" cy="258.59" r="2.4"/>
<circle cx="265.30" cy="261.63" r="2.4"/>
<circle cx="225.06" cy="257.83" r="2.4"/>
<circle cx="228.85" cy="258.59" r="2.4"/>
<circle cx="232.65" cy="259.35" r="2.4"/>
<circle cx="237.20" cy="257.07" r="2.4"/>
<circle cx="241.00" cy="258.59" r="2.4"/>
<circle cx="245.56" cy="256.31" r="2.4"/>
<circle cx="249.35" cy="257.83" r="2.4"/>
<circle cx="251.63" cy="260.11" r="2.4"/>
<circle cx="219.44" cy="261.63" r="2.4"/>
<circle cx="215.94" cy="263.45" r="2.4"/>
<circle cx="223.54" cy="263.15" r="2.4"/>
<circle cx="228.09" cy="263.91" r="2.4"/>
<circle cx="232.65" cy="263.15" r="2.4"/>
<circle cx="237.20" cy="262.39" r="2.4"/>
<circle cx="241.76" cy="263.15" r="2.4"/>
<circle cx="246.31" cy="262.39" r="2.4"/>
<circle cx="257.70" cy="263.91" r="2.4"/>
<circle cx="253.15" cy="265.43" r="2.4"/>
<circle cx="261.50" cy="266.19" r="2.4"/>
<circle cx="271.07" cy="266.19" r="2.4"/>
<circle cx="217.46" cy="266.94" r="2.4"/>
<circle cx="221.26" cy="268.46" r="2.4"/>
<circle cx="225.81" cy="267.70" r="2.4"/>
<circle cx="230.37" cy="268.46" r="2.4"/>
<circle cx="235.69" cy="267.40" r="2.4"/>
<circle cx="240.24" cy="266.49" r="2.4"/>
<circle cx="244.04" cy="268.46" r="2.4"/>
<circle cx="250.87" cy="267.40" r="2.4"/>
<circle cx="256.19" cy="268.46" r="2.4"/>
<circle cx="214.43" cy="271.50" r="2.4"/>
<circle cx="218.98" cy="270.74" r="2.4"/>
<circle cx="215.94" cy="273.47" r="2.4"/>
<circle cx="224.30" cy="272.26" r="2.4"/>
<circle cx="228.85" cy="271.50" r="2.4"/>
<circle cx="233.41" cy="270.74" r="2.4"/>
<circle cx="237.96" cy="271.50" r="2.4"/>
<circle cx="242.52" cy="270.74" r="2.4"/>
<circle cx="245.56" cy="272.26" r="2.4"/>
<circle cx="253.15" cy="271.50" r="2.4"/>
<circle cx="260.74" cy="270.74" r="2.4"/>
<circle cx="226.57" cy="275.30" r="2.4"/>
<circle cx="222.02" cy="276.81" r="2.4"/>
<circle cx="232.65" cy="274.99" r="2.4"/>
<circle cx="237.20" cy="276.06" r="2.4"/>
<circle cx="241.00" cy="276.81" r="2.4"/>
<circle cx="250.87" cy="275.60" r="2.4"/>
<circle cx="255.43" cy="276.06" r="2.4"/>
<circle cx="224.30" cy="278.33" r="2.4"/>
<circle cx="229.61" cy="279.85" r="2.4"/>
<circle cx="232.65" cy="280.16" r="2.4"/>
<circle cx="260.74" cy="279.85" r="2.4"/>
<circle cx="263.78" cy="280.61" r="2.4"/>
<circle cx="250.87" cy="281.67" r="2.4"/>
<circle cx="221.26" cy="283.65" r="2.4"/>
<circle cx="243.73" cy="286.99" r="2.4"/>
<circle cx="220.66" cy="268.19" r="2.4"/>
<circle cx="236.62" cy="273.17" r="2.4"/>
<circle cx="231.24" cy="262.12" r="2.4"/>
<circle cx="223.52" cy="265.93" r="2.4"/>
<circle cx="253.85" cy="266.36" r="2.4"/>
<circle cx="234.74" cy="266.84" r="2.4"/>
<circle cx="244.61" cy="266.77" r="2.4"/>
<circle cx="221.89" cy="270.12" r="2.4"/>
<circle cx="253.49" cy="271.74" r="2.4"/>
<circle cx="241.16" cy="262.78" r="2.4"/>
<circle cx="235.64" cy="260.54" r="2.4"/>
<circle cx="226.33" cy="270.42" r="2.4"/>
<circle cx="237.41" cy="271.03" r="2.4"/>
<circle cx="227.96" cy="260.40" r="2.4"/>
<circle cx="229.29" cy="273.48" r="2.4"/>
<circle cx="229.16" cy="270.64" r="2.4"/>
<circle cx="232.82" cy="263.79" r="2.4"/>
<circle cx="255.39" cy="268.06" r="2.4"/>
<circle cx="233.84" cy="268.55" r="2.4"/>
<circle cx="220.67" cy="273.55" r="2.4"/>
<circle cx="241.10" cy="269.72" r="2.4"/>
<circle cx="229.84" cy="276.46" r="2.4"/>
<circle cx="225.76" cy="274.72" r="2.4"/>
<circle cx="226.58" cy="277.86" r="2.4"/>
<circle cx="242.95" cy="258.08" r="2.4"/>
<circle cx="242.63" cy="269.40" r="2.4"/>
<circle cx="231.60" cy="259.74" r="2.4"/>
</g>
<rect x="201.00" y="210.50" width="107.00" height="80.10" fill="none" stroke="#000" stroke-width="2.1"/>
<line x1="202.50" y1="211.85" x2="307.00" y2="211.85" stroke="#333" stroke-width="0.8" stroke-dasharray="3.3 1.4"/>
<line x1="201.00" y1="291.10" x2="201.00" y2="294.10" stroke="#000" stroke-width="1.9"/>
<text x="201.00" y="306.50" font-size="11.4" text-anchor="middle">1.0</text>
<line x1="227.75" y1="291.10" x2="227.75" y2="294.10" stroke="#000" stroke-width="1.9"/>
<text x="227.75" y="306.50" font-size="11.4" text-anchor="middle">1.5</text>
<line x1="254.50" y1="291.10" x2="254.50" y2="294.10" stroke="#000" stroke-width="1.9"/>
<text x="254.50" y="306.50" font-size="11.4" text-anchor="middle">2.0</text>
<line x1="281.25" y1="291.10" x2="281.25" y2="294.10" stroke="#000" stroke-width="1.9"/>
<text x="281.25" y="306.50" font-size="11.4" text-anchor="middle">2.5</text>
<line x1="308.00" y1="291.10" x2="308.00" y2="294.10" stroke="#000" stroke-width="1.9"/>
<text x="308.00" y="306.50" font-size="11.4" text-anchor="middle">3.0</text>
<line x1="200.50" y1="290.60" x2="197.50" y2="290.60" stroke="#000" stroke-width="1.9"/>
<text x="195.40" y="294.30" font-size="11.4" text-anchor="end">0.20</text>
<line x1="200.50" y1="263.90" x2="197.50" y2="263.90" stroke="#000" stroke-width="1.9"/>
<text x="195.40" y="267.60" font-size="11.4" text-anchor="end">0.25</text>
<line x1="200.50" y1="237.20" x2="197.50" y2="237.20" stroke="#000" stroke-width="1.9"/>
<text x="195.40" y="240.90" font-size="11.4" text-anchor="end">0.30</text>
<line x1="200.50" y1="210.50" x2="197.50" y2="210.50" stroke="#000" stroke-width="1.9"/>
<text x="195.40" y="214.20" font-size="11.4" text-anchor="end">0.35</text>
<text x="306.40" y="224.60" font-size="14.7" fill="#2a7ab8" text-anchor="end">.208*</text>
<g>
<circle cx="400.45" cy="224.43" r="2.4"/>
<circle cx="405.46" cy="225.94" r="2.4"/>
<circle cx="373.12" cy="230.80" r="2.4"/>
<circle cx="363.70" cy="237.64" r="2.4"/>
<circle cx="369.02" cy="237.79" r="2.4"/>
<circle cx="388.00" cy="237.79" r="2.4"/>
<circle cx="367.96" cy="240.37" r="2.4"/>
<circle cx="396.81" cy="242.34" r="2.4"/>
<circle cx="408.50" cy="242.65" r="2.4"/>
<circle cx="370.08" cy="245.99" r="2.4"/>
<circle cx="376.91" cy="246.44" r="2.4"/>
<circle cx="365.98" cy="247.96" r="2.4"/>
<circle cx="374.33" cy="249.18" r="2.4"/>
<circle cx="407.44" cy="249.79" r="2.4"/>
<circle cx="364.46" cy="251.76" r="2.4"/>
<circle cx="402.43" cy="251.76" r="2.4"/>
<circle cx="357.33" cy="254.04" r="2.4"/>
<circle cx="360.67" cy="255.56" r="2.4"/>
<circle cx="371.60" cy="254.80" r="2.4"/>
<circle cx="374.33" cy="253.28" r="2.4"/>
<circle cx="382.69" cy="253.73" r="2.4"/>
<circle cx="388.76" cy="254.80" r="2.4"/>
<circle cx="392.56" cy="255.56" r="2.4"/>
<circle cx="399.39" cy="255.56" r="2.4"/>
<circle cx="407.74" cy="255.56" r="2.4"/>
<circle cx="401.67" cy="257.83" r="2.4"/>
<circle cx="410.02" cy="258.29" r="2.4"/>
<circle cx="359.15" cy="259.35" r="2.4"/>
<circle cx="362.19" cy="258.59" r="2.4"/>
<circle cx="368.56" cy="259.35" r="2.4"/>
<circle cx="378.13" cy="258.90" r="2.4"/>
<circle cx="384.20" cy="258.59" r="2.4"/>
<circle cx="396.35" cy="260.11" r="2.4"/>
<circle cx="362.94" cy="263.15" r="2.4"/>
<circle cx="388.00" cy="261.63" r="2.4"/>
<circle cx="382.69" cy="262.39" r="2.4"/>
<circle cx="392.56" cy="263.15" r="2.4"/>
<circle cx="370.54" cy="264.36" r="2.4"/>
<circle cx="377.37" cy="264.67" r="2.4"/>
<circle cx="381.93" cy="265.43" r="2.4"/>
<circle cx="400.91" cy="263.15" r="2.4"/>
<circle cx="405.46" cy="262.39" r="2.4"/>
<circle cx="409.26" cy="263.91" r="2.4"/>
<circle cx="413.81" cy="264.67" r="2.4"/>
<circle cx="419.89" cy="265.43" r="2.4"/>
<circle cx="434.31" cy="261.63" r="2.4"/>
<circle cx="374.33" cy="266.49" r="2.4"/>
<circle cx="379.65" cy="267.70" r="2.4"/>
<circle cx="387.24" cy="267.40" r="2.4"/>
<circle cx="392.56" cy="267.70" r="2.4"/>
<circle cx="395.59" cy="266.94" r="2.4"/>
<circle cx="400.91" cy="267.70" r="2.4"/>
<circle cx="405.46" cy="267.70" r="2.4"/>
<circle cx="416.09" cy="267.70" r="2.4"/>
<circle cx="412.30" cy="269.22" r="2.4"/>
<circle cx="367.50" cy="270.44" r="2.4"/>
<circle cx="372.06" cy="272.26" r="2.4"/>
<circle cx="378.89" cy="272.26" r="2.4"/>
<circle cx="383.44" cy="270.74" r="2.4"/>
<circle cx="388.00" cy="271.50" r="2.4"/>
<circle cx="392.56" cy="271.50" r="2.4"/>
<circle cx="395.59" cy="270.74" r="2.4"/>
<circle cx="401.67" cy="270.74" r="2.4"/>
<circle cx="407.74" cy="270.74" r="2.4"/>
<circle cx="419.89" cy="271.04" r="2.4"/>
<circle cx="416.09" cy="272.26" r="2.4"/>
<circle cx="437.35" cy="270.29" r="2.4"/>
<circle cx="388.00" cy="275.30" r="2.4"/>
<circle cx="391.80" cy="275.30" r="2.4"/>
<circle cx="394.83" cy="274.54" r="2.4"/>
<circle cx="401.67" cy="273.78" r="2.4"/>
<circle cx="406.98" cy="273.02" r="2.4"/>
<circle cx="412.30" cy="273.78" r="2.4"/>
<circle cx="387.24" cy="276.81" r="2.4"/>
<circle cx="392.56" cy="277.57" r="2.4"/>
<circle cx="409.26" cy="278.33" r="2.4"/>
<circle cx="430.52" cy="276.81" r="2.4"/>
<circle cx="440.39" cy="278.33" r="2.4"/>
<circle cx="359.15" cy="280.61" r="2.4"/>
<circle cx="360.97" cy="279.85" r="2.4"/>
<circle cx="422.93" cy="279.85" r="2.4"/>
<circle cx="424.75" cy="280.16" r="2.4"/>
<circle cx="395.59" cy="281.67" r="2.4"/>
<circle cx="413.81" cy="283.65" r="2.4"/>
<circle cx="392.10" cy="286.99" r="2.4"/>
<circle cx="416.50" cy="266.19" r="2.4"/>
<circle cx="383.50" cy="267.66" r="2.4"/>
<circle cx="391.57" cy="269.96" r="2.4"/>
<circle cx="414.81" cy="265.79" r="2.4"/>
<circle cx="383.65" cy="259.96" r="2.4"/>
<circle cx="415.63" cy="268.76" r="2.4"/>
<circle cx="409.36" cy="270.39" r="2.4"/>
<circle cx="383.57" cy="265.39" r="2.4"/>
<circle cx="407.54" cy="271.39" r="2.4"/>
<circle cx="387.81" cy="272.78" r="2.4"/>
<circle cx="406.40" cy="273.56" r="2.4"/>
<circle cx="404.03" cy="270.25" r="2.4"/>
<circle cx="393.85" cy="268.52" r="2.4"/>
<circle cx="390.69" cy="275.50" r="2.4"/>
<circle cx="385.35" cy="257.08" r="2.4"/>
<circle cx="411.75" cy="265.32" r="2.4"/>
<circle cx="379.79" cy="267.88" r="2.4"/>
<circle cx="390.40" cy="272.93" r="2.4"/>
<circle cx="384.92" cy="268.44" r="2.4"/>
<circle cx="381.66" cy="265.60" r="2.4"/>
<circle cx="405.78" cy="265.20" r="2.4"/>
</g>
<rect x="348.00" y="210.50" width="107.00" height="80.10" fill="none" stroke="#000" stroke-width="2.1"/>
<line x1="349.50" y1="211.85" x2="454.00" y2="211.85" stroke="#333" stroke-width="0.8" stroke-dasharray="3.3 1.4"/>
<line x1="348.00" y1="291.10" x2="348.00" y2="294.10" stroke="#000" stroke-width="1.9"/>
<text x="348.00" y="306.50" font-size="11.4" text-anchor="middle">10</text>
<line x1="374.75" y1="291.10" x2="374.75" y2="294.10" stroke="#000" stroke-width="1.9"/>
<text x="374.75" y="306.50" font-size="11.4" text-anchor="middle">20</text>
<line x1="401.50" y1="291.10" x2="401.50" y2="294.10" stroke="#000" stroke-width="1.9"/>
<text x="401.50" y="306.50" font-size="11.4" text-anchor="middle">30</text>
<line x1="428.25" y1="291.10" x2="428.25" y2="294.10" stroke="#000" stroke-width="1.9"/>
<text x="428.25" y="306.50" font-size="11.4" text-anchor="middle">40</text>
<line x1="455.00" y1="291.10" x2="455.00" y2="294.10" stroke="#000" stroke-width="1.9"/>
<text x="455.00" y="306.50" font-size="11.4" text-anchor="middle">50</text>
<line x1="347.50" y1="290.60" x2="344.50" y2="290.60" stroke="#000" stroke-width="1.9"/>
<text x="342.40" y="294.30" font-size="11.4" text-anchor="end">0.20</text>
<line x1="347.50" y1="263.90" x2="344.50" y2="263.90" stroke="#000" stroke-width="1.9"/>
<text x="342.40" y="267.60" font-size="11.4" text-anchor="end">0.25</text>
<line x1="347.50" y1="237.20" x2="344.50" y2="237.20" stroke="#000" stroke-width="1.9"/>
<text x="342.40" y="240.90" font-size="11.4" text-anchor="end">0.30</text>
<line x1="347.50" y1="210.50" x2="344.50" y2="210.50" stroke="#000" stroke-width="1.9"/>
<text x="342.40" y="214.20" font-size="11.4" text-anchor="end">0.35</text>
<text x="453.40" y="224.20" font-size="15.0" fill="#dc2637" text-anchor="end">-.265**</text>
<g>
<circle cx="93.79" cy="331.53" r="2.4"/>
<circle cx="87.71" cy="335.78" r="2.4"/>
<circle cx="91.96" cy="337.60" r="2.4"/>
<circle cx="108.97" cy="338.51" r="2.4"/>
<circle cx="123.40" cy="336.54" r="2.4"/>
<circle cx="97.28" cy="341.55" r="2.4"/>
<circle cx="103.35" cy="341.55" r="2.4"/>
<circle cx="102.90" cy="344.13" r="2.4"/>
<circle cx="118.08" cy="343.67" r="2.4"/>
<circle cx="91.20" cy="345.19" r="2.4"/>
<circle cx="87.71" cy="347.17" r="2.4"/>
<circle cx="99.56" cy="346.71" r="2.4"/>
<circle cx="77.54" cy="349.44" r="2.4"/>
<circle cx="89.69" cy="349.44" r="2.4"/>
<circle cx="94.24" cy="349.14" r="2.4"/>
<circle cx="98.04" cy="349.44" r="2.4"/>
<circle cx="105.33" cy="349.44" r="2.4"/>
<circle cx="109.43" cy="349.75" r="2.4"/>
<circle cx="112.92" cy="348.69" r="2.4"/>
<circle cx="81.64" cy="352.48" r="2.4"/>
<circle cx="91.96" cy="352.48" r="2.4"/>
<circle cx="96.52" cy="352.18" r="2.4"/>
<circle cx="101.07" cy="352.79" r="2.4"/>
<circle cx="113.22" cy="352.79" r="2.4"/>
<circle cx="117.02" cy="352.79" r="2.4"/>
<circle cx="132.20" cy="352.79" r="2.4"/>
<circle cx="73.29" cy="355.21" r="2.4"/>
<circle cx="120.81" cy="354.76" r="2.4"/>
<circle cx="92.72" cy="355.52" r="2.4"/>
<circle cx="97.28" cy="355.52" r="2.4"/>
<circle cx="101.83" cy="355.82" r="2.4"/>
<circle cx="106.39" cy="354.76" r="2.4"/>
<circle cx="124.61" cy="358.56" r="2.4"/>
<circle cx="119.60" cy="359.31" r="2.4"/>
<circle cx="90.44" cy="358.25" r="2.4"/>
<circle cx="95.00" cy="358.56" r="2.4"/>
<circle cx="99.56" cy="358.25" r="2.4"/>
<circle cx="104.11" cy="357.80" r="2.4"/>
<circle cx="108.67" cy="357.80" r="2.4"/>
<circle cx="83.61" cy="359.31" r="2.4"/>
<circle cx="86.65" cy="360.38" r="2.4"/>
<circle cx="112.46" cy="360.38" r="2.4"/>
<circle cx="82.09" cy="362.35" r="2.4"/>
<circle cx="91.20" cy="361.59" r="2.4"/>
<circle cx="95.76" cy="361.90" r="2.4"/>
<circle cx="100.31" cy="361.59" r="2.4"/>
<circle cx="104.87" cy="361.29" r="2.4"/>
<circle cx="109.43" cy="362.35" r="2.4"/>
<circle cx="139.04" cy="363.41" r="2.4"/>
<circle cx="76.02" cy="365.39" r="2.4"/>
<circle cx="80.57" cy="366.45" r="2.4"/>
<circle cx="85.13" cy="365.39" r="2.4"/>
<circle cx="89.69" cy="364.63" r="2.4"/>
<circle cx="94.24" cy="365.39" r="2.4"/>
<circle cx="102.59" cy="364.63" r="2.4"/>
<circle cx="107.15" cy="365.39" r="2.4"/>
<circle cx="112.46" cy="363.87" r="2.4"/>
<circle cx="91.20" cy="368.43" r="2.4"/>
<circle cx="98.80" cy="367.97" r="2.4"/>
<circle cx="106.39" cy="367.97" r="2.4"/>
<circle cx="109.43" cy="366.15" r="2.4"/>
<circle cx="85.13" cy="370.40" r="2.4"/>
<circle cx="105.63" cy="370.70" r="2.4"/>
<circle cx="108.67" cy="369.94" r="2.4"/>
<circle cx="86.65" cy="373.44" r="2.4"/>
<circle cx="98.04" cy="374.04" r="2.4"/>
<circle cx="111.70" cy="372.98" r="2.4"/>
<circle cx="116.56" cy="373.74" r="2.4"/>
<circle cx="80.88" cy="377.08" r="2.4"/>
<circle cx="99.56" cy="376.78" r="2.4"/>
<circle cx="108.36" cy="376.02" r="2.4"/>
<circle cx="85.89" cy="385.13" r="2.4"/>
<circle cx="105.32" cy="365.34" r="2.4"/>
<circle cx="91.61" cy="358.04" r="2.4"/>
<circle cx="96.06" cy="357.15" r="2.4"/>
<circle cx="96.28" cy="349.19" r="2.4"/>
<circle cx="83.89" cy="361.85" r="2.4"/>
<circle cx="102.36" cy="347.31" r="2.4"/>
<circle cx="108.33" cy="360.30" r="2.4"/>
<circle cx="106.65" cy="366.39" r="2.4"/>
<circle cx="92.56" cy="349.36" r="2.4"/>
<circle cx="102.34" cy="360.48" r="2.4"/>
<circle cx="98.12" cy="353.80" r="2.4"/>
<circle cx="96.74" cy="351.10" r="2.4"/>
<circle cx="98.04" cy="355.79" r="2.4"/>
<circle cx="94.89" cy="361.15" r="2.4"/>
<circle cx="106.12" cy="359.01" r="2.4"/>
<circle cx="106.55" cy="367.91" r="2.4"/>
<circle cx="86.76" cy="362.47" r="2.4"/>
<circle cx="104.27" cy="352.17" r="2.4"/>
<circle cx="99.43" cy="348.46" r="2.4"/>
<circle cx="108.77" cy="365.89" r="2.4"/>
<circle cx="94.52" cy="354.25" r="2.4"/>
<circle cx="90.57" cy="353.87" r="2.4"/>
<circle cx="93.21" cy="351.10" r="2.4"/>
<circle cx="94.33" cy="365.19" r="2.4"/>
<circle cx="106.08" cy="348.79" r="2.4"/>
<circle cx="91.96" cy="363.77" r="2.4"/>
<circle cx="92.87" cy="361.49" r="2.4"/>
<circle cx="103.56" cy="362.46" r="2.4"/>
<circle cx="92.56" cy="355.87" r="2.4"/>
<circle cx="99.93" cy="344.14" r="2.4"/>
<circle cx="103.75" cy="364.27" r="2.4"/>
<circle cx="104.73" cy="360.11" r="2.4"/>
<circle cx="100.99" cy="354.80" r="2.4"/>
<circle cx="102.03" cy="345.21" r="2.4"/>
</g>
<rect x="55.00" y="313.40" width="107.00" height="80.10" fill="none" stroke="#000" stroke-width="2.1"/>
<line x1="56.50" y1="314.75" x2="161.00" y2="314.75" stroke="#333" stroke-width="0.8" stroke-dasharray="3.3 1.4"/>
<line x1="55.00" y1="394.00" x2="55.00" y2="397.00" stroke="#000" stroke-width="1.9"/>
<text x="55.00" y="409.40" font-size="11.4" text-anchor="middle">1.0</text>
<line x1="76.40" y1="394.00" x2="76.40" y2="397.00" stroke="#000" stroke-width="1.9"/>
<text x="76.40" y="409.40" font-size="11.4" text-anchor="middle">1.5</text>
<line x1="97.80" y1="394.00" x2="97.80" y2="397.00" stroke="#000" stroke-width="1.9"/>
<text x="97.80" y="409.40" font-size="11.4" text-anchor="middle">2.0</text>
<line x1="119.20" y1="394.00" x2="119.20" y2="397.00" stroke="#000" stroke-width="1.9"/>
<text x="119.20" y="409.40" font-size="11.4" text-anchor="middle">2.5</text>
<line x1="140.60" y1="394.00" x2="140.60" y2="397.00" stroke="#000" stroke-width="1.9"/>
<text x="140.60" y="409.40" font-size="11.4" text-anchor="middle">3.0</text>
<line x1="162.00" y1="394.00" x2="162.00" y2="397.00" stroke="#000" stroke-width="1.9"/>
<text x="162.00" y="409.40" font-size="11.4" text-anchor="middle">3.5</text>
<line x1="54.50" y1="393.50" x2="51.50" y2="393.50" stroke="#000" stroke-width="1.9"/>
<text x="49.40" y="397.20" font-size="11.4" text-anchor="end">0.2</text>
<line x1="54.50" y1="373.48" x2="51.50" y2="373.48" stroke="#000" stroke-width="1.9"/>
<text x="49.40" y="377.18" font-size="11.4" text-anchor="end">0.3</text>
<line x1="54.50" y1="353.45" x2="51.50" y2="353.45" stroke="#000" stroke-width="1.9"/>
<text x="49.40" y="357.15" font-size="11.4" text-anchor="end">0.4</text>
<line x1="54.50" y1="333.42" x2="51.50" y2="333.42" stroke="#000" stroke-width="1.9"/>
<text x="49.40" y="337.12" font-size="11.4" text-anchor="end">0.5</text>
<line x1="54.50" y1="313.40" x2="51.50" y2="313.40" stroke="#000" stroke-width="1.9"/>
<text x="49.40" y="317.10" font-size="11.4" text-anchor="end">0.6</text>
<g>
<circle cx="227.79" cy="331.53" r="2.4"/>
<circle cx="219.29" cy="335.78" r="2.4"/>
<circle cx="225.06" cy="336.54" r="2.4"/>
<circle cx="236.14" cy="337.60" r="2.4"/>
<circle cx="251.33" cy="338.51" r="2.4"/>
<circle cx="269.09" cy="336.54" r="2.4"/>
<circle cx="236.75" cy="341.09" r="2.4"/>
<circle cx="244.04" cy="341.55" r="2.4"/>
<circle cx="255.73" cy="343.67" r="2.4"/>
<circle cx="269.55" cy="344.13" r="2.4"/>
<circle cx="232.65" cy="344.13" r="2.4"/>
<circle cx="229.16" cy="345.65" r="2.4"/>
<circle cx="237.96" cy="347.17" r="2.4"/>
<circle cx="245.10" cy="346.71" r="2.4"/>
<circle cx="214.43" cy="349.44" r="2.4"/>
<circle cx="224.30" cy="349.14" r="2.4"/>
<circle cx="221.26" cy="351.72" r="2.4"/>
<circle cx="231.13" cy="348.69" r="2.4"/>
<circle cx="235.69" cy="349.44" r="2.4"/>
<circle cx="240.24" cy="350.20" r="2.4"/>
<circle cx="251.63" cy="349.44" r="2.4"/>
<circle cx="264.99" cy="348.99" r="2.4"/>
<circle cx="217.01" cy="355.21" r="2.4"/>
<circle cx="230.37" cy="352.79" r="2.4"/>
<circle cx="234.93" cy="352.79" r="2.4"/>
<circle cx="239.48" cy="353.24" r="2.4"/>
<circle cx="244.04" cy="353.24" r="2.4"/>
<circle cx="255.43" cy="352.79" r="2.4"/>
<circle cx="261.04" cy="352.79" r="2.4"/>
<circle cx="265.30" cy="354.30" r="2.4"/>
<circle cx="282.30" cy="352.79" r="2.4"/>
<circle cx="232.65" cy="355.82" r="2.4"/>
<circle cx="237.20" cy="356.28" r="2.4"/>
<circle cx="241.76" cy="355.52" r="2.4"/>
<circle cx="250.87" cy="354.76" r="2.4"/>
<circle cx="255.43" cy="355.52" r="2.4"/>
<circle cx="270.91" cy="358.56" r="2.4"/>
<circle cx="277.44" cy="359.31" r="2.4"/>
<circle cx="225.06" cy="359.31" r="2.4"/>
<circle cx="230.37" cy="358.25" r="2.4"/>
<circle cx="234.93" cy="358.56" r="2.4"/>
<circle cx="244.04" cy="358.86" r="2.4"/>
<circle cx="248.59" cy="357.80" r="2.4"/>
<circle cx="253.15" cy="358.56" r="2.4"/>
<circle cx="260.74" cy="361.29" r="2.4"/>
<circle cx="228.09" cy="361.90" r="2.4"/>
<circle cx="232.65" cy="361.59" r="2.4"/>
<circle cx="237.20" cy="360.83" r="2.4"/>
<circle cx="245.56" cy="361.59" r="2.4"/>
<circle cx="250.11" cy="361.29" r="2.4"/>
<circle cx="254.67" cy="361.90" r="2.4"/>
<circle cx="292.63" cy="363.41" r="2.4"/>
<circle cx="215.49" cy="365.84" r="2.4"/>
<circle cx="218.98" cy="366.15" r="2.4"/>
<circle cx="223.84" cy="365.84" r="2.4"/>
<circle cx="228.85" cy="365.39" r="2.4"/>
<circle cx="234.17" cy="365.39" r="2.4"/>
<circle cx="247.07" cy="365.39" r="2.4"/>
<circle cx="251.63" cy="364.63" r="2.4"/>
<circle cx="256.19" cy="365.39" r="2.4"/>
<circle cx="229.61" cy="367.67" r="2.4"/>
<circle cx="244.04" cy="367.67" r="2.4"/>
<circle cx="249.35" cy="368.43" r="2.4"/>
<circle cx="253.91" cy="367.67" r="2.4"/>
<circle cx="257.70" cy="368.43" r="2.4"/>
<circle cx="221.26" cy="370.70" r="2.4"/>
<circle cx="237.96" cy="369.49" r="2.4"/>
<circle cx="250.11" cy="370.70" r="2.4"/>
<circle cx="258.46" cy="371.01" r="2.4"/>
<circle cx="227.33" cy="373.44" r="2.4"/>
<circle cx="241.00" cy="374.04" r="2.4"/>
<circle cx="238.72" cy="375.56" r="2.4"/>
<circle cx="259.98" cy="374.04" r="2.4"/>
<circle cx="263.47" cy="372.98" r="2.4"/>
<circle cx="221.56" cy="377.08" r="2.4"/>
<circle cx="247.07" cy="377.54" r="2.4"/>
<circle cx="258.46" cy="376.47" r="2.4"/>
<circle cx="229.31" cy="385.13" r="2.4"/>
<circle cx="236.20" cy="351.27" r="2.4"/>
<circle cx="232.17" cy="363.74" r="2.4"/>
<circle cx="232.15" cy="365.50" r="2.4"/>
<circle cx="229.09" cy="361.98" r="2.4"/>
<circle cx="248.02" cy="359.64" r="2.4"/>
<circle cx="232.66" cy="350.53" r="2.4"/>
<circle cx="247.92" cy="368.16" r="2.4"/>
<circle cx="251.13" cy="364.55" r="2.4"/>
<circle cx="239.64" cy="352.96" r="2.4"/>
<circle cx="234.85" cy="355.80" r="2.4"/>
<circle cx="225.70" cy="363.06" r="2.4"/>
<circle cx="257.96" cy="367.75" r="2.4"/>
<circle cx="246.66" cy="364.60" r="2.4"/>
<circle cx="232.89" cy="348.63" r="2.4"/>
<circle cx="235.54" cy="344.60" r="2.4"/>
<circle cx="230.69" cy="356.23" r="2.4"/>
<circle cx="254.35" cy="365.27" r="2.4"/>
<circle cx="241.97" cy="352.41" r="2.4"/>
<circle cx="249.83" cy="361.60" r="2.4"/>
<circle cx="235.57" cy="347.27" r="2.4"/>
<circle cx="251.48" cy="366.78" r="2.4"/>
<circle cx="250.61" cy="356.38" r="2.4"/>
<circle cx="233.19" cy="358.98" r="2.4"/>
<circle cx="234.61" cy="350.58" r="2.4"/>
<circle cx="253.19" cy="359.30" r="2.4"/>
<circle cx="240.89" cy="354.08" r="2.4"/>
<circle cx="254.24" cy="355.52" r="2.4"/>
<circle cx="233.07" cy="356.77" r="2.4"/>
</g>
<rect x="201.00" y="313.40" width="107.00" height="80.10" fill="none" stroke="#000" stroke-width="2.1"/>
<line x1="202.50" y1="314.75" x2="307.00" y2="314.75" stroke="#333" stroke-width="0.8" stroke-dasharray="3.3 1.4"/>
<line x1="201.00" y1="394.00" x2="201.00" y2="397.00" stroke="#000" stroke-width="1.9"/>
<text x="201.00" y="409.40" font-size="11.4" text-anchor="middle">1.0</text>
<line x1="227.75" y1="394.00" x2="227.75" y2="397.00" stroke="#000" stroke-width="1.9"/>
<text x="227.75" y="409.40" font-size="11.4" text-anchor="middle">1.5</text>
<line x1="254.50" y1="394.00" x2="254.50" y2="397.00" stroke="#000" stroke-width="1.9"/>
<text x="254.50" y="409.40" font-size="11.4" text-anchor="middle">2.0</text>
<line x1="281.25" y1="394.00" x2="281.25" y2="397.00" stroke="#000" stroke-width="1.9"/>
<text x="281.25" y="409.40" font-size="11.4" text-anchor="middle">2.5</text>
<line x1="308.00" y1="394.00" x2="308.00" y2="397.00" stroke="#000" stroke-width="1.9"/>
<text x="308.00" y="409.40" font-size="11.4" text-anchor="middle">3.0</text>
<line x1="200.50" y1="393.50" x2="197.50" y2="393.50" stroke="#000" stroke-width="1.9"/>
<text x="195.40" y="397.20" font-size="11.4" text-anchor="end">0.2</text>
<line x1="200.50" y1="373.48" x2="197.50" y2="373.48" stroke="#000" stroke-width="1.9"/>
<text x="195.40" y="377.18" font-size="11.4" text-anchor="end">0.3</text>
<line x1="200.50" y1="353.45" x2="197.50" y2="353.45" stroke="#000" stroke-width="1.9"/>
<text x="195.40" y="357.15" font-size="11.4" text-anchor="end">0.4</text>
<line x1="200.50" y1="333.42" x2="197.50" y2="333.42" stroke="#000" stroke-width="1.9"/>
<text x="195.40" y="337.12" font-size="11.4" text-anchor="end">0.5</text>
<line x1="200.50" y1="313.40" x2="197.50" y2="313.40" stroke="#000" stroke-width="1.9"/>
<text x="195.40" y="317.10" font-size="11.4" text-anchor="end">0.6</text>
<g>
<circle cx="417.91" cy="331.53" r="2.4"/>
<circle cx="434.62" cy="335.78" r="2.4"/>
<circle cx="383.90" cy="336.54" r="2.4"/>
<circle cx="408.50" cy="336.54" r="2.4"/>
<circle cx="396.35" cy="337.60" r="2.4"/>
<circle cx="392.56" cy="338.81" r="2.4"/>
<circle cx="398.63" cy="341.55" r="2.4"/>
<circle cx="395.29" cy="342.61" r="2.4"/>
<circle cx="388.76" cy="344.13" r="2.4"/>
<circle cx="402.88" cy="345.19" r="2.4"/>
<circle cx="437.35" cy="344.13" r="2.4"/>
<circle cx="365.98" cy="348.99" r="2.4"/>
<circle cx="380.41" cy="348.69" r="2.4"/>
<circle cx="388.00" cy="347.17" r="2.4"/>
<circle cx="391.80" cy="349.44" r="2.4"/>
<circle cx="395.59" cy="349.44" r="2.4"/>
<circle cx="410.47" cy="348.23" r="2.4"/>
<circle cx="407.74" cy="350.20" r="2.4"/>
<circle cx="422.93" cy="347.17" r="2.4"/>
<circle cx="420.65" cy="350.20" r="2.4"/>
<circle cx="430.52" cy="350.20" r="2.4"/>
<circle cx="440.39" cy="349.14" r="2.4"/>
<circle cx="363.40" cy="353.70" r="2.4"/>
<circle cx="369.78" cy="354.00" r="2.4"/>
<circle cx="373.57" cy="352.79" r="2.4"/>
<circle cx="378.13" cy="352.18" r="2.4"/>
<circle cx="382.69" cy="351.72" r="2.4"/>
<circle cx="387.24" cy="352.48" r="2.4"/>
<circle cx="391.04" cy="353.24" r="2.4"/>
<circle cx="398.63" cy="353.24" r="2.4"/>
<circle cx="403.19" cy="352.79" r="2.4"/>
<circle cx="419.89" cy="353.24" r="2.4"/>
<circle cx="359.45" cy="357.04" r="2.4"/>
<circle cx="364.46" cy="358.56" r="2.4"/>
<circle cx="374.33" cy="357.04" r="2.4"/>
<circle cx="379.65" cy="356.28" r="2.4"/>
<circle cx="384.20" cy="355.82" r="2.4"/>
<circle cx="388.76" cy="356.28" r="2.4"/>
<circle cx="392.56" cy="357.04" r="2.4"/>
<circle cx="397.11" cy="355.82" r="2.4"/>
<circle cx="401.67" cy="356.28" r="2.4"/>
<circle cx="405.46" cy="354.76" r="2.4"/>
<circle cx="414.57" cy="354.30" r="2.4"/>
<circle cx="412.30" cy="356.28" r="2.4"/>
<circle cx="356.87" cy="360.83" r="2.4"/>
<circle cx="360.67" cy="363.41" r="2.4"/>
<circle cx="367.50" cy="362.35" r="2.4"/>
<circle cx="370.54" cy="361.59" r="2.4"/>
<circle cx="379.65" cy="360.07" r="2.4"/>
<circle cx="384.20" cy="359.31" r="2.4"/>
<circle cx="388.00" cy="360.07" r="2.4"/>
<circle cx="392.56" cy="359.31" r="2.4"/>
<circle cx="396.35" cy="360.83" r="2.4"/>
<circle cx="400.91" cy="359.77" r="2.4"/>
<circle cx="405.46" cy="358.56" r="2.4"/>
<circle cx="409.26" cy="363.11" r="2.4"/>
<circle cx="368.26" cy="365.84" r="2.4"/>
<circle cx="378.89" cy="363.87" r="2.4"/>
<circle cx="383.44" cy="363.11" r="2.4"/>
<circle cx="388.00" cy="363.87" r="2.4"/>
<circle cx="392.56" cy="364.33" r="2.4"/>
<circle cx="395.59" cy="363.87" r="2.4"/>
<circle cx="400.91" cy="366.15" r="2.4"/>
<circle cx="405.46" cy="365.39" r="2.4"/>
<circle cx="413.81" cy="366.91" r="2.4"/>
<circle cx="416.40" cy="365.39" r="2.4"/>
<circle cx="358.39" cy="369.49" r="2.4"/>
<circle cx="362.94" cy="369.19" r="2.4"/>
<circle cx="377.37" cy="367.67" r="2.4"/>
<circle cx="382.69" cy="366.91" r="2.4"/>
<circle cx="413.81" cy="370.70" r="2.4"/>
<circle cx="359.15" cy="372.98" r="2.4"/>
<circle cx="377.37" cy="370.70" r="2.4"/>
<circle cx="381.17" cy="373.74" r="2.4"/>
<circle cx="389.52" cy="373.74" r="2.4"/>
<circle cx="394.83" cy="373.44" r="2.4"/>
<circle cx="362.94" cy="377.54" r="2.4"/>
<circle cx="372.06" cy="376.02" r="2.4"/>
<circle cx="391.80" cy="376.78" r="2.4"/>
<circle cx="368.71" cy="385.13" r="2.4"/>
<circle cx="383.32" cy="353.48" r="2.4"/>
<circle cx="391.01" cy="355.14" r="2.4"/>
<circle cx="394.57" cy="362.16" r="2.4"/>
<circle cx="396.09" cy="357.44" r="2.4"/>
<circle cx="400.50" cy="354.45" r="2.4"/>
<circle cx="381.44" cy="353.22" r="2.4"/>
<circle cx="381.84" cy="359.44" r="2.4"/>
<circle cx="388.14" cy="360.05" r="2.4"/>
<circle cx="378.47" cy="358.55" r="2.4"/>
<circle cx="402.16" cy="358.61" r="2.4"/>
<circle cx="400.84" cy="359.41" r="2.4"/>
<circle cx="402.50" cy="355.45" r="2.4"/>
<circle cx="391.40" cy="360.89" r="2.4"/>
<circle cx="370.52" cy="358.19" r="2.4"/>
<circle cx="386.32" cy="362.24" r="2.4"/>
<circle cx="393.33" cy="360.61" r="2.4"/>
<circle cx="402.66" cy="353.26" r="2.4"/>
<circle cx="398.09" cy="355.16" r="2.4"/>
<circle cx="393.20" cy="357.33" r="2.4"/>
<circle cx="389.82" cy="363.22" r="2.4"/>
<circle cx="377.35" cy="352.32" r="2.4"/>
<circle cx="389.66" cy="349.54" r="2.4"/>
<circle cx="383.30" cy="361.09" r="2.4"/>
<circle cx="380.58" cy="361.12" r="2.4"/>
<circle cx="383.91" cy="364.50" r="2.4"/>
<circle cx="387.58" cy="356.73" r="2.4"/>
</g>
<rect x="348.00" y="313.40" width="107.00" height="80.10" fill="none" stroke="#000" stroke-width="2.1"/>
<line x1="349.50" y1="314.75" x2="454.00" y2="314.75" stroke="#333" stroke-width="0.8" stroke-dasharray="3.3 1.4"/>
<line x1="348.00" y1="394.00" x2="348.00" y2="397.00" stroke="#000" stroke-width="1.9"/>
<text x="348.00" y="409.40" font-size="11.4" text-anchor="middle">10</text>
<line x1="374.75" y1="394.00" x2="374.75" y2="397.00" stroke="#000" stroke-width="1.9"/>
<text x="374.75" y="409.40" font-size="11.4" text-anchor="middle">20</text>
<line x1="401.50" y1="394.00" x2="401.50" y2="397.00" stroke="#000" stroke-width="1.9"/>
<text x="401.50" y="409.40" font-size="11.4" text-anchor="middle">30</text>
<line x1="428.25" y1="394.00" x2="428.25" y2="397.00" stroke="#000" stroke-width="1.9"/>
<text x="428.25" y="409.40" font-size="11.4" text-anchor="middle">40</text>
<line x1="455.00" y1="394.00" x2="455.00" y2="397.00" stroke="#000" stroke-width="1.9"/>
<text x="455.00" y="409.40" font-size="11.4" text-anchor="middle">50</text>
<line x1="347.50" y1="393.50" x2="344.50" y2="393.50" stroke="#000" stroke-width="1.9"/>
<text x="342.40" y="397.20" font-size="11.4" text-anchor="end">0.2</text>
<line x1="347.50" y1="373.48" x2="344.50" y2="373.48" stroke="#000" stroke-width="1.9"/>
<text x="342.40" y="377.18" font-size="11.4" text-anchor="end">0.3</text>
<line x1="347.50" y1="353.45" x2="344.50" y2="353.45" stroke="#000" stroke-width="1.9"/>
<text x="342.40" y="357.15" font-size="11.4" text-anchor="end">0.4</text>
<line x1="347.50" y1="333.42" x2="344.50" y2="333.42" stroke="#000" stroke-width="1.9"/>
<text x="342.40" y="337.12" font-size="11.4" text-anchor="end">0.5</text>
<line x1="347.50" y1="313.40" x2="344.50" y2="313.40" stroke="#000" stroke-width="1.9"/>
<text x="342.40" y="317.10" font-size="11.4" text-anchor="end">0.6</text>
<text x="453.60" y="391.70" font-size="15.2" fill="#dc2637" text-anchor="end">.378**</text>
<g>
<circle cx="519.85" cy="331.53" r="2.4"/>
<circle cx="529.42" cy="335.78" r="2.4"/>
<circle cx="533.52" cy="336.54" r="2.4"/>
<circle cx="554.47" cy="336.54" r="2.4"/>
<circle cx="523.65" cy="337.60" r="2.4"/>
<circle cx="521.37" cy="338.81" r="2.4"/>
<circle cx="496.01" cy="341.85" r="2.4"/>
<circle cx="537.31" cy="341.55" r="2.4"/>
<circle cx="525.17" cy="343.37" r="2.4"/>
<circle cx="538.83" cy="344.89" r="2.4"/>
<circle cx="518.33" cy="344.13" r="2.4"/>
<circle cx="504.97" cy="347.17" r="2.4"/>
<circle cx="502.39" cy="349.75" r="2.4"/>
<circle cx="508.46" cy="350.20" r="2.4"/>
<circle cx="517.57" cy="347.17" r="2.4"/>
<circle cx="522.89" cy="348.69" r="2.4"/>
<circle cx="527.14" cy="348.69" r="2.4"/>
<circle cx="533.52" cy="347.17" r="2.4"/>
<circle cx="535.04" cy="349.44" r="2.4"/>
<circle cx="539.90" cy="349.14" r="2.4"/>
<circle cx="547.64" cy="348.99" r="2.4"/>
<circle cx="515.30" cy="350.96" r="2.4"/>
<circle cx="519.09" cy="351.72" r="2.4"/>
<circle cx="546.73" cy="352.48" r="2.4"/>
<circle cx="550.98" cy="354.30" r="2.4"/>
<circle cx="561.91" cy="353.70" r="2.4"/>
<circle cx="570.42" cy="352.48" r="2.4"/>
<circle cx="579.07" cy="355.21" r="2.4"/>
<circle cx="513.78" cy="353.70" r="2.4"/>
<circle cx="518.33" cy="354.30" r="2.4"/>
<circle cx="522.89" cy="353.70" r="2.4"/>
<circle cx="527.44" cy="354.00" r="2.4"/>
<circle cx="531.24" cy="354.76" r="2.4"/>
<circle cx="509.98" cy="356.73" r="2.4"/>
<circle cx="514.54" cy="357.04" r="2.4"/>
<circle cx="519.09" cy="357.34" r="2.4"/>
<circle cx="523.65" cy="356.28" r="2.4"/>
<circle cx="528.20" cy="357.04" r="2.4"/>
<circle cx="534.28" cy="357.80" r="2.4"/>
<circle cx="541.11" cy="358.25" r="2.4"/>
<circle cx="561.61" cy="357.80" r="2.4"/>
<circle cx="531.24" cy="358.56" r="2.4"/>
<circle cx="513.02" cy="360.07" r="2.4"/>
<circle cx="517.57" cy="360.38" r="2.4"/>
<circle cx="522.13" cy="360.07" r="2.4"/>
<circle cx="542.63" cy="360.07" r="2.4"/>
<circle cx="555.23" cy="360.83" r="2.4"/>
<circle cx="507.70" cy="363.11" r="2.4"/>
<circle cx="512.26" cy="363.87" r="2.4"/>
<circle cx="516.81" cy="363.11" r="2.4"/>
<circle cx="525.17" cy="362.81" r="2.4"/>
<circle cx="536.56" cy="363.11" r="2.4"/>
<circle cx="538.83" cy="362.35" r="2.4"/>
<circle cx="545.67" cy="364.33" r="2.4"/>
<circle cx="554.78" cy="365.39" r="2.4"/>
<circle cx="557.81" cy="366.45" r="2.4"/>
<circle cx="510.74" cy="366.15" r="2.4"/>
<circle cx="514.54" cy="366.91" r="2.4"/>
<circle cx="522.89" cy="366.91" r="2.4"/>
<circle cx="527.44" cy="365.84" r="2.4"/>
<circle cx="540.35" cy="367.36" r="2.4"/>
<circle cx="500.87" cy="370.70" r="2.4"/>
<circle cx="523.65" cy="370.40" r="2.4"/>
<circle cx="534.28" cy="369.19" r="2.4"/>
<circle cx="538.83" cy="369.49" r="2.4"/>
<circle cx="532.76" cy="371.01" r="2.4"/>
<circle cx="504.67" cy="373.74" r="2.4"/>
<circle cx="512.26" cy="374.04" r="2.4"/>
<circle cx="521.37" cy="373.74" r="2.4"/>
<circle cx="523.65" cy="374.04" r="2.4"/>
<circle cx="508.46" cy="376.78" r="2.4"/>
<circle cx="514.84" cy="376.32" r="2.4"/>
<circle cx="528.51" cy="377.54" r="2.4"/>
<circle cx="532.00" cy="385.13" r="2.4"/>
<circle cx="520.85" cy="358.30" r="2.4"/>
<circle cx="515.72" cy="353.79" r="2.4"/>
<circle cx="518.75" cy="361.30" r="2.4"/>
<circle cx="517.91" cy="353.09" r="2.4"/>
<circle cx="540.18" cy="361.74" r="2.4"/>
<circle cx="534.71" cy="358.94" r="2.4"/>
<circle cx="512.72" cy="361.72" r="2.4"/>
<circle cx="524.59" cy="355.30" r="2.4"/>
<circle cx="520.80" cy="354.80" r="2.4"/>
<circle cx="540.46" cy="363.53" r="2.4"/>
<circle cx="518.99" cy="346.60" r="2.4"/>
<circle cx="527.29" cy="355.73" r="2.4"/>
<circle cx="513.77" cy="360.33" r="2.4"/>
<circle cx="517.40" cy="360.38" r="2.4"/>
<circle cx="541.32" cy="365.21" r="2.4"/>
<circle cx="523.99" cy="357.44" r="2.4"/>
<circle cx="515.63" cy="359.94" r="2.4"/>
<circle cx="520.87" cy="353.25" r="2.4"/>
<circle cx="536.59" cy="360.80" r="2.4"/>
<circle cx="512.99" cy="358.20" r="2.4"/>
<circle cx="517.69" cy="355.72" r="2.4"/>
<circle cx="518.87" cy="359.55" r="2.4"/>
<circle cx="539.52" cy="365.18" r="2.4"/>
<circle cx="516.51" cy="357.41" r="2.4"/>
<circle cx="520.13" cy="348.55" r="2.4"/>
<circle cx="529.86" cy="355.33" r="2.4"/>
<circle cx="537.83" cy="362.58" r="2.4"/>
<circle cx="518.04" cy="350.76" r="2.4"/>
<circle cx="521.70" cy="356.16" r="2.4"/>
<circle cx="515.64" cy="363.69" r="2.4"/>
<circle cx="520.89" cy="360.99" r="2.4"/>
<circle cx="512.48" cy="353.49" r="2.4"/>
</g>
<rect x="491.60" y="313.40" width="107.00" height="80.10" fill="none" stroke="#000" stroke-width="2.1"/>
<line x1="493.10" y1="314.75" x2="597.60" y2="314.75" stroke="#333" stroke-width="0.8" stroke-dasharray="3.3 1.4"/>
<line x1="491.60" y1="394.00" x2="491.60" y2="397.00" stroke="#000" stroke-width="1.9"/>
<text x="491.60" y="409.40" font-size="11.4" text-anchor="middle">0.20</text>
<line x1="527.27" y1="394.00" x2="527.27" y2="397.00" stroke="#000" stroke-width="1.9"/>
<text x="527.27" y="409.40" font-size="11.4" text-anchor="middle">0.25</text>
<line x1="562.93" y1="394.00" x2="562.93" y2="397.00" stroke="#000" stroke-width="1.9"/>
<text x="562.93" y="409.40" font-size="11.4" text-anchor="middle">0.30</text>
<line x1="598.60" y1="394.00" x2="598.60" y2="397.00" stroke="#000" stroke-width="1.9"/>
<text x="598.60" y="409.40" font-size="11.4" text-anchor="middle">0.35</text>
<line x1="491.10" y1="393.50" x2="488.10" y2="393.50" stroke="#000" stroke-width="1.9"/>
<text x="486.00" y="397.20" font-size="11.4" text-anchor="end">0.2</text>
<line x1="491.10" y1="373.48" x2="488.10" y2="373.48" stroke="#000" stroke-width="1.9"/>
<text x="486.00" y="377.18" font-size="11.4" text-anchor="end">0.3</text>
<line x1="491.10" y1="353.45" x2="488.10" y2="353.45" stroke="#000" stroke-width="1.9"/>
<text x="486.00" y="357.15" font-size="11.4" text-anchor="end">0.4</text>
<line x1="491.10" y1="333.42" x2="488.10" y2="333.42" stroke="#000" stroke-width="1.9"/>
<text x="486.00" y="337.12" font-size="11.4" text-anchor="end">0.5</text>
<line x1="491.10" y1="313.40" x2="488.10" y2="313.40" stroke="#000" stroke-width="1.9"/>
<text x="486.00" y="317.10" font-size="11.4" text-anchor="end">0.6</text>
<g>
<circle cx="88.93" cy="425.93" r="2.4"/>
<circle cx="93.94" cy="426.39" r="2.4"/>
<circle cx="87.71" cy="427.91" r="2.4"/>
<circle cx="92.72" cy="431.70" r="2.4"/>
<circle cx="98.04" cy="432.92" r="2.4"/>
<circle cx="100.31" cy="433.98" r="2.4"/>
<circle cx="108.97" cy="435.96" r="2.4"/>
<circle cx="118.54" cy="434.74" r="2.4"/>
<circle cx="123.55" cy="433.98" r="2.4"/>
<circle cx="114.74" cy="437.02" r="2.4"/>
<circle cx="117.78" cy="437.78" r="2.4"/>
<circle cx="73.44" cy="438.08" r="2.4"/>
<circle cx="95.00" cy="437.78" r="2.4"/>
<circle cx="98.80" cy="438.54" r="2.4"/>
<circle cx="104.11" cy="437.78" r="2.4"/>
<circle cx="89.23" cy="440.06" r="2.4"/>
<circle cx="113.22" cy="441.57" r="2.4"/>
<circle cx="132.51" cy="441.12" r="2.4"/>
<circle cx="93.48" cy="440.81" r="2.4"/>
<circle cx="103.35" cy="440.81" r="2.4"/>
<circle cx="107.91" cy="443.09" r="2.4"/>
<circle cx="77.84" cy="444.61" r="2.4"/>
<circle cx="82.55" cy="444.91" r="2.4"/>
<circle cx="88.17" cy="443.09" r="2.4"/>
<circle cx="78.30" cy="446.89" r="2.4"/>
<circle cx="98.04" cy="443.85" r="2.4"/>
<circle cx="91.20" cy="446.13" r="2.4"/>
<circle cx="95.76" cy="446.89" r="2.4"/>
<circle cx="101.07" cy="446.13" r="2.4"/>
<circle cx="105.63" cy="445.37" r="2.4"/>
<circle cx="110.19" cy="446.13" r="2.4"/>
<circle cx="121.88" cy="446.13" r="2.4"/>
<circle cx="117.78" cy="448.71" r="2.4"/>
<circle cx="82.85" cy="450.69" r="2.4"/>
<circle cx="87.41" cy="449.17" r="2.4"/>
<circle cx="91.96" cy="449.93" r="2.4"/>
<circle cx="96.52" cy="450.69" r="2.4"/>
<circle cx="99.56" cy="449.17" r="2.4"/>
<circle cx="106.39" cy="449.93" r="2.4"/>
<circle cx="110.94" cy="450.69" r="2.4"/>
<circle cx="120.81" cy="450.69" r="2.4"/>
<circle cx="124.91" cy="452.96" r="2.4"/>
<circle cx="139.34" cy="454.18" r="2.4"/>
<circle cx="82.09" cy="454.18" r="2.4"/>
<circle cx="86.65" cy="452.96" r="2.4"/>
<circle cx="90.44" cy="453.72" r="2.4"/>
<circle cx="95.00" cy="454.18" r="2.4"/>
<circle cx="99.56" cy="454.48" r="2.4"/>
<circle cx="107.15" cy="453.72" r="2.4"/>
<circle cx="111.70" cy="454.48" r="2.4"/>
<circle cx="79.81" cy="456.76" r="2.4"/>
<circle cx="83.61" cy="457.52" r="2.4"/>
<circle cx="88.17" cy="456.76" r="2.4"/>
<circle cx="92.72" cy="457.52" r="2.4"/>
<circle cx="97.28" cy="456.76" r="2.4"/>
<circle cx="106.39" cy="457.52" r="2.4"/>
<circle cx="110.19" cy="456.76" r="2.4"/>
<circle cx="76.02" cy="461.77" r="2.4"/>
<circle cx="79.81" cy="460.56" r="2.4"/>
<circle cx="85.89" cy="460.56" r="2.4"/>
<circle cx="90.44" cy="461.31" r="2.4"/>
<circle cx="94.24" cy="460.25" r="2.4"/>
<circle cx="99.56" cy="460.25" r="2.4"/>
<circle cx="106.39" cy="460.56" r="2.4"/>
<circle cx="113.22" cy="461.31" r="2.4"/>
<circle cx="104.87" cy="464.35" r="2.4"/>
<circle cx="108.67" cy="465.11" r="2.4"/>
<circle cx="117.02" cy="467.39" r="2.4"/>
<circle cx="86.65" cy="470.43" r="2.4"/>
<circle cx="85.13" cy="472.70" r="2.4"/>
<circle cx="98.04" cy="470.43" r="2.4"/>
<circle cx="100.31" cy="469.67" r="2.4"/>
<circle cx="108.67" cy="471.94" r="2.4"/>
<circle cx="110.94" cy="472.40" r="2.4"/>
<circle cx="81.03" cy="475.74" r="2.4"/>
<circle cx="86.19" cy="476.04" r="2.4"/>
<circle cx="97.73" cy="475.74" r="2.4"/>
<circle cx="112.46" cy="476.96" r="2.4"/>
<circle cx="102.90" cy="446.13" r="2.4"/>
<circle cx="103.66" cy="449.62" r="2.4"/>
<circle cx="104.11" cy="455.70" r="2.4"/>
<circle cx="102.90" cy="459.04" r="2.4"/>
<circle cx="101.38" cy="447.65" r="2.4"/>
<circle cx="104.87" cy="442.33" r="2.4"/>
<circle cx="99.56" cy="441.57" r="2.4"/>
<circle cx="90.25" cy="448.71" r="2.4"/>
<circle cx="93.53" cy="441.27" r="2.4"/>
<circle cx="97.48" cy="443.43" r="2.4"/>
<circle cx="92.41" cy="456.60" r="2.4"/>
<circle cx="106.22" cy="459.77" r="2.4"/>
<circle cx="106.29" cy="445.72" r="2.4"/>
<circle cx="101.78" cy="446.70" r="2.4"/>
<circle cx="94.74" cy="447.59" r="2.4"/>
<circle cx="96.60" cy="440.50" r="2.4"/>
<circle cx="107.96" cy="443.25" r="2.4"/>
<circle cx="108.70" cy="455.39" r="2.4"/>
<circle cx="103.89" cy="448.01" r="2.4"/>
<circle cx="99.20" cy="445.89" r="2.4"/>
<circle cx="88.35" cy="451.21" r="2.4"/>
<circle cx="104.28" cy="459.61" r="2.4"/>
<circle cx="105.48" cy="453.20" r="2.4"/>
<circle cx="101.71" cy="441.49" r="2.4"/>
<circle cx="90.38" cy="452.78" r="2.4"/>
<circle cx="103.71" cy="445.25" r="2.4"/>
<circle cx="95.17" cy="450.55" r="2.4"/>
<circle cx="94.27" cy="445.09" r="2.4"/>
</g>
<rect x="55.00" y="416.20" width="107.00" height="80.10" fill="none" stroke="#000" stroke-width="2.1"/>
<line x1="56.50" y1="417.55" x2="161.00" y2="417.55" stroke="#333" stroke-width="0.8" stroke-dasharray="3.3 1.4"/>
<line x1="55.00" y1="496.80" x2="55.00" y2="499.80" stroke="#000" stroke-width="1.9"/>
<text x="55.00" y="512.20" font-size="11.4" text-anchor="middle">1.0</text>
<line x1="76.40" y1="496.80" x2="76.40" y2="499.80" stroke="#000" stroke-width="1.9"/>
<text x="76.40" y="512.20" font-size="11.4" text-anchor="middle">1.5</text>
<line x1="97.80" y1="496.80" x2="97.80" y2="499.80" stroke="#000" stroke-width="1.9"/>
<text x="97.80" y="512.20" font-size="11.4" text-anchor="middle">2.0</text>
<line x1="119.20" y1="496.80" x2="119.20" y2="499.80" stroke="#000" stroke-width="1.9"/>
<text x="119.20" y="512.20" font-size="11.4" text-anchor="middle">2.5</text>
<line x1="140.60" y1="496.80" x2="140.60" y2="499.80" stroke="#000" stroke-width="1.9"/>
<text x="140.60" y="512.20" font-size="11.4" text-anchor="middle">3.0</text>
<line x1="162.00" y1="496.80" x2="162.00" y2="499.80" stroke="#000" stroke-width="1.9"/>
<text x="162.00" y="512.20" font-size="11.4" text-anchor="middle">3.5</text>
<line x1="54.50" y1="496.30" x2="51.50" y2="496.30" stroke="#000" stroke-width="1.9"/>
<text x="49.40" y="500.00" font-size="11.4" text-anchor="end">0.4</text>
<line x1="54.50" y1="476.27" x2="51.50" y2="476.27" stroke="#000" stroke-width="1.9"/>
<text x="49.40" y="479.97" font-size="11.4" text-anchor="end">0.5</text>
<line x1="54.50" y1="456.25" x2="51.50" y2="456.25" stroke="#000" stroke-width="1.9"/>
<text x="49.40" y="459.95" font-size="11.4" text-anchor="end">0.6</text>
<line x1="54.50" y1="436.22" x2="51.50" y2="436.22" stroke="#000" stroke-width="1.9"/>
<text x="49.40" y="439.92" font-size="11.4" text-anchor="end">0.7</text>
<line x1="54.50" y1="416.20" x2="51.50" y2="416.20" stroke="#000" stroke-width="1.9"/>
<text x="49.40" y="419.90" font-size="11.4" text-anchor="end">0.8</text>
<g>
<circle cx="225.06" cy="425.93" r="2.4"/>
<circle cx="227.79" cy="426.54" r="2.4"/>
<circle cx="219.29" cy="427.91" r="2.4"/>
<circle cx="236.44" cy="431.70" r="2.4"/>
<circle cx="238.72" cy="433.53" r="2.4"/>
<circle cx="244.04" cy="433.98" r="2.4"/>
<circle cx="251.63" cy="435.96" r="2.4"/>
<circle cx="255.73" cy="437.78" r="2.4"/>
<circle cx="265.30" cy="437.02" r="2.4"/>
<circle cx="269.40" cy="433.98" r="2.4"/>
<circle cx="269.09" cy="435.04" r="2.4"/>
<circle cx="217.01" cy="438.08" r="2.4"/>
<circle cx="232.65" cy="437.78" r="2.4"/>
<circle cx="235.69" cy="439.30" r="2.4"/>
<circle cx="224.30" cy="440.06" r="2.4"/>
<circle cx="228.85" cy="440.81" r="2.4"/>
<circle cx="240.24" cy="440.06" r="2.4"/>
<circle cx="244.04" cy="441.12" r="2.4"/>
<circle cx="247.83" cy="440.06" r="2.4"/>
<circle cx="264.54" cy="441.57" r="2.4"/>
<circle cx="282.46" cy="441.12" r="2.4"/>
<circle cx="214.43" cy="444.91" r="2.4"/>
<circle cx="221.26" cy="444.61" r="2.4"/>
<circle cx="222.78" cy="446.89" r="2.4"/>
<circle cx="226.57" cy="443.85" r="2.4"/>
<circle cx="232.65" cy="443.85" r="2.4"/>
<circle cx="236.44" cy="443.09" r="2.4"/>
<circle cx="241.76" cy="443.85" r="2.4"/>
<circle cx="245.56" cy="444.61" r="2.4"/>
<circle cx="251.63" cy="443.85" r="2.4"/>
<circle cx="251.63" cy="446.89" r="2.4"/>
<circle cx="265.30" cy="446.43" r="2.4"/>
<circle cx="277.75" cy="447.95" r="2.4"/>
<circle cx="225.06" cy="450.69" r="2.4"/>
<circle cx="229.61" cy="449.17" r="2.4"/>
<circle cx="234.17" cy="448.41" r="2.4"/>
<circle cx="237.96" cy="449.93" r="2.4"/>
<circle cx="242.52" cy="449.17" r="2.4"/>
<circle cx="247.07" cy="450.69" r="2.4"/>
<circle cx="255.43" cy="449.93" r="2.4"/>
<circle cx="261.04" cy="448.71" r="2.4"/>
<circle cx="271.37" cy="452.96" r="2.4"/>
<circle cx="292.63" cy="454.18" r="2.4"/>
<circle cx="215.19" cy="454.48" r="2.4"/>
<circle cx="229.61" cy="453.72" r="2.4"/>
<circle cx="233.41" cy="452.96" r="2.4"/>
<circle cx="237.20" cy="454.18" r="2.4"/>
<circle cx="241.76" cy="453.72" r="2.4"/>
<circle cx="245.56" cy="454.48" r="2.4"/>
<circle cx="250.87" cy="454.48" r="2.4"/>
<circle cx="260.74" cy="455.24" r="2.4"/>
<circle cx="218.53" cy="457.97" r="2.4"/>
<circle cx="223.54" cy="459.34" r="2.4"/>
<circle cx="229.61" cy="456.76" r="2.4"/>
<circle cx="234.17" cy="457.52" r="2.4"/>
<circle cx="241.76" cy="457.52" r="2.4"/>
<circle cx="246.31" cy="458.28" r="2.4"/>
<circle cx="256.94" cy="456.76" r="2.4"/>
<circle cx="215.94" cy="461.77" r="2.4"/>
<circle cx="225.06" cy="461.31" r="2.4"/>
<circle cx="227.33" cy="462.38" r="2.4"/>
<circle cx="234.93" cy="461.31" r="2.4"/>
<circle cx="237.96" cy="461.77" r="2.4"/>
<circle cx="243.28" cy="460.56" r="2.4"/>
<circle cx="247.83" cy="460.56" r="2.4"/>
<circle cx="252.39" cy="461.31" r="2.4"/>
<circle cx="255.43" cy="462.07" r="2.4"/>
<circle cx="250.87" cy="464.35" r="2.4"/>
<circle cx="253.15" cy="465.11" r="2.4"/>
<circle cx="258.46" cy="465.11" r="2.4"/>
<circle cx="262.26" cy="467.39" r="2.4"/>
<circle cx="227.33" cy="470.43" r="2.4"/>
<circle cx="221.26" cy="472.40" r="2.4"/>
<circle cx="241.00" cy="470.88" r="2.4"/>
<circle cx="247.07" cy="469.67" r="2.4"/>
<circle cx="258.46" cy="471.94" r="2.4"/>
<circle cx="260.74" cy="472.40" r="2.4"/>
<circle cx="221.26" cy="475.74" r="2.4"/>
<circle cx="229.61" cy="476.20" r="2.4"/>
<circle cx="238.42" cy="475.74" r="2.4"/>
<circle cx="263.78" cy="476.96" r="2.4"/>
<circle cx="236.78" cy="452.66" r="2.4"/>
<circle cx="246.02" cy="448.88" r="2.4"/>
<circle cx="247.40" cy="456.13" r="2.4"/>
<circle cx="232.23" cy="445.55" r="2.4"/>
<circle cx="239.02" cy="449.00" r="2.4"/>
<circle cx="245.25" cy="442.52" r="2.4"/>
<circle cx="248.93" cy="454.04" r="2.4"/>
<circle cx="244.18" cy="443.99" r="2.4"/>
<circle cx="231.09" cy="453.97" r="2.4"/>
<circle cx="229.52" cy="456.64" r="2.4"/>
<circle cx="243.91" cy="446.42" r="2.4"/>
<circle cx="227.91" cy="442.67" r="2.4"/>
<circle cx="240.33" cy="457.36" r="2.4"/>
<circle cx="235.25" cy="451.04" r="2.4"/>
<circle cx="237.50" cy="455.55" r="2.4"/>
<circle cx="235.43" cy="454.84" r="2.4"/>
<circle cx="245.06" cy="458.85" r="2.4"/>
<circle cx="242.18" cy="449.64" r="2.4"/>
<circle cx="238.88" cy="454.83" r="2.4"/>
<circle cx="234.47" cy="458.41" r="2.4"/>
<circle cx="249.40" cy="451.80" r="2.4"/>
<circle cx="248.67" cy="459.78" r="2.4"/>
<circle cx="230.15" cy="452.38" r="2.4"/>
<circle cx="247.47" cy="445.27" r="2.4"/>
<circle cx="234.36" cy="445.72" r="2.4"/>
</g>
<rect x="201.00" y="416.20" width="107.00" height="80.10" fill="none" stroke="#000" stroke-width="2.1"/>
<line x1="202.50" y1="417.55" x2="307.00" y2="417.55" stroke="#333" stroke-width="0.8" stroke-dasharray="3.3 1.4"/>
<line x1="201.00" y1="496.80" x2="201.00" y2="499.80" stroke="#000" stroke-width="1.9"/>
<text x="201.00" y="512.20" font-size="11.4" text-anchor="middle">1.0</text>
<line x1="227.75" y1="496.80" x2="227.75" y2="499.80" stroke="#000" stroke-width="1.9"/>
<text x="227.75" y="512.20" font-size="11.4" text-anchor="middle">1.5</text>
<line x1="254.50" y1="496.80" x2="254.50" y2="499.80" stroke="#000" stroke-width="1.9"/>
<text x="254.50" y="512.20" font-size="11.4" text-anchor="middle">2.0</text>
<line x1="281.25" y1="496.80" x2="281.25" y2="499.80" stroke="#000" stroke-width="1.9"/>
<text x="281.25" y="512.20" font-size="11.4" text-anchor="middle">2.5</text>
<line x1="308.00" y1="496.80" x2="308.00" y2="499.80" stroke="#000" stroke-width="1.9"/>
<text x="308.00" y="512.20" font-size="11.4" text-anchor="middle">3.0</text>
<line x1="200.50" y1="496.30" x2="197.50" y2="496.30" stroke="#000" stroke-width="1.9"/>
<text x="195.40" y="500.00" font-size="11.4" text-anchor="end">0.4</text>
<line x1="200.50" y1="476.27" x2="197.50" y2="476.27" stroke="#000" stroke-width="1.9"/>
<text x="195.40" y="479.97" font-size="11.4" text-anchor="end">0.5</text>
<line x1="200.50" y1="456.25" x2="197.50" y2="456.25" stroke="#000" stroke-width="1.9"/>
<text x="195.40" y="459.95" font-size="11.4" text-anchor="end">0.6</text>
<line x1="200.50" y1="436.22" x2="197.50" y2="436.22" stroke="#000" stroke-width="1.9"/>
<text x="195.40" y="439.92" font-size="11.4" text-anchor="end">0.7</text>
<line x1="200.50" y1="416.20" x2="197.50" y2="416.20" stroke="#000" stroke-width="1.9"/>
<text x="195.40" y="419.90" font-size="11.4" text-anchor="end">0.8</text>
<g>
<circle cx="408.50" cy="425.93" r="2.4"/>
<circle cx="417.91" cy="426.39" r="2.4"/>
<circle cx="434.62" cy="427.91" r="2.4"/>
<circle cx="396.35" cy="432.01" r="2.4"/>
<circle cx="400.15" cy="433.22" r="2.4"/>
<circle cx="372.81" cy="433.98" r="2.4"/>
<circle cx="383.90" cy="433.98" r="2.4"/>
<circle cx="388.76" cy="434.74" r="2.4"/>
<circle cx="393.31" cy="436.26" r="2.4"/>
<circle cx="363.70" cy="437.02" r="2.4"/>
<circle cx="369.02" cy="438.08" r="2.4"/>
<circle cx="381.17" cy="438.08" r="2.4"/>
<circle cx="388.00" cy="438.54" r="2.4"/>
<circle cx="397.87" cy="437.78" r="2.4"/>
<circle cx="405.46" cy="438.54" r="2.4"/>
<circle cx="410.02" cy="438.99" r="2.4"/>
<circle cx="437.35" cy="437.78" r="2.4"/>
<circle cx="365.98" cy="441.57" r="2.4"/>
<circle cx="374.03" cy="441.12" r="2.4"/>
<circle cx="386.48" cy="441.57" r="2.4"/>
<circle cx="391.04" cy="440.81" r="2.4"/>
<circle cx="395.59" cy="441.57" r="2.4"/>
<circle cx="400.91" cy="442.03" r="2.4"/>
<circle cx="404.70" cy="441.57" r="2.4"/>
<circle cx="410.02" cy="442.33" r="2.4"/>
<circle cx="419.89" cy="443.85" r="2.4"/>
<circle cx="430.52" cy="445.37" r="2.4"/>
<circle cx="440.39" cy="446.89" r="2.4"/>
<circle cx="359.15" cy="446.89" r="2.4"/>
<circle cx="356.87" cy="449.17" r="2.4"/>
<circle cx="365.22" cy="447.65" r="2.4"/>
<circle cx="375.09" cy="446.13" r="2.4"/>
<circle cx="379.65" cy="446.89" r="2.4"/>
<circle cx="384.96" cy="445.37" r="2.4"/>
<circle cx="389.52" cy="446.13" r="2.4"/>
<circle cx="394.07" cy="445.37" r="2.4"/>
<circle cx="399.39" cy="445.37" r="2.4"/>
<circle cx="403.94" cy="446.13" r="2.4"/>
<circle cx="409.26" cy="445.37" r="2.4"/>
<circle cx="413.81" cy="446.89" r="2.4"/>
<circle cx="424.44" cy="447.65" r="2.4"/>
<circle cx="420.65" cy="449.17" r="2.4"/>
<circle cx="369.78" cy="450.23" r="2.4"/>
<circle cx="379.65" cy="450.69" r="2.4"/>
<circle cx="384.20" cy="449.93" r="2.4"/>
<circle cx="388.00" cy="450.69" r="2.4"/>
<circle cx="392.56" cy="449.62" r="2.4"/>
<circle cx="396.35" cy="449.93" r="2.4"/>
<circle cx="401.67" cy="450.69" r="2.4"/>
<circle cx="407.74" cy="450.69" r="2.4"/>
<circle cx="413.81" cy="451.14" r="2.4"/>
<circle cx="360.21" cy="454.18" r="2.4"/>
<circle cx="381.17" cy="454.18" r="2.4"/>
<circle cx="384.96" cy="454.48" r="2.4"/>
<circle cx="389.52" cy="454.79" r="2.4"/>
<circle cx="405.46" cy="453.72" r="2.4"/>
<circle cx="410.02" cy="452.96" r="2.4"/>
<circle cx="367.50" cy="456.30" r="2.4"/>
<circle cx="370.54" cy="456.30" r="2.4"/>
<circle cx="394.83" cy="456.76" r="2.4"/>
<circle cx="400.15" cy="456.76" r="2.4"/>
<circle cx="412.30" cy="456.76" r="2.4"/>
<circle cx="362.94" cy="459.80" r="2.4"/>
<circle cx="377.37" cy="459.80" r="2.4"/>
<circle cx="381.93" cy="459.04" r="2.4"/>
<circle cx="385.72" cy="459.04" r="2.4"/>
<circle cx="388.76" cy="460.56" r="2.4"/>
<circle cx="392.56" cy="460.25" r="2.4"/>
<circle cx="405.46" cy="458.28" r="2.4"/>
<circle cx="416.09" cy="460.56" r="2.4"/>
<circle cx="358.39" cy="461.77" r="2.4"/>
<circle cx="362.94" cy="465.11" r="2.4"/>
<circle cx="378.13" cy="464.35" r="2.4"/>
<circle cx="381.17" cy="467.39" r="2.4"/>
<circle cx="388.00" cy="463.59" r="2.4"/>
<circle cx="392.56" cy="462.83" r="2.4"/>
<circle cx="395.59" cy="462.07" r="2.4"/>
<circle cx="401.67" cy="461.31" r="2.4"/>
<circle cx="410.02" cy="462.38" r="2.4"/>
<circle cx="363.70" cy="469.67" r="2.4"/>
<circle cx="360.67" cy="472.40" r="2.4"/>
<circle cx="372.06" cy="471.94" r="2.4"/>
<circle cx="388.76" cy="470.43" r="2.4"/>
<circle cx="394.83" cy="469.97" r="2.4"/>
<circle cx="413.81" cy="472.40" r="2.4"/>
<circle cx="359.45" cy="476.96" r="2.4"/>
<circle cx="368.71" cy="476.04" r="2.4"/>
<circle cx="391.04" cy="475.74" r="2.4"/>
<circle cx="392.56" cy="475.74" r="2.4"/>
<circle cx="394.47" cy="458.51" r="2.4"/>
<circle cx="406.91" cy="445.32" r="2.4"/>
<circle cx="385.83" cy="438.50" r="2.4"/>
<circle cx="403.08" cy="450.20" r="2.4"/>
<circle cx="405.61" cy="451.47" r="2.4"/>
<circle cx="383.74" cy="452.41" r="2.4"/>
<circle cx="389.73" cy="459.26" r="2.4"/>
<circle cx="389.77" cy="442.50" r="2.4"/>
<circle cx="386.90" cy="440.87" r="2.4"/>
<circle cx="403.85" cy="441.08" r="2.4"/>
<circle cx="386.58" cy="458.65" r="2.4"/>
<circle cx="382.37" cy="455.75" r="2.4"/>
<circle cx="385.19" cy="440.29" r="2.4"/>
<circle cx="387.94" cy="442.23" r="2.4"/>
<circle cx="391.16" cy="444.49" r="2.4"/>
<circle cx="389.98" cy="451.85" r="2.4"/>
<circle cx="401.76" cy="444.66" r="2.4"/>
</g>
<rect x="348.00" y="416.20" width="107.00" height="80.10" fill="none" stroke="#000" stroke-width="2.1"/>
<line x1="349.50" y1="417.55" x2="454.00" y2="417.55" stroke="#333" stroke-width="0.8" stroke-dasharray="3.3 1.4"/>
<line x1="348.00" y1="496.80" x2="348.00" y2="499.80" stroke="#000" stroke-width="1.9"/>
<text x="348.00" y="512.20" font-size="11.4" text-anchor="middle">10</text>
<line x1="374.75" y1="496.80" x2="374.75" y2="499.80" stroke="#000" stroke-width="1.9"/>
<text x="374.75" y="512.20" font-size="11.4" text-anchor="middle">20</text>
<line x1="401.50" y1="496.80" x2="401.50" y2="499.80" stroke="#000" stroke-width="1.9"/>
<text x="401.50" y="512.20" font-size="11.4" text-anchor="middle">30</text>
<line x1="428.25" y1="496.80" x2="428.25" y2="499.80" stroke="#000" stroke-width="1.9"/>
<text x="428.25" y="512.20" font-size="11.4" text-anchor="middle">40</text>
<line x1="455.00" y1="496.80" x2="455.00" y2="499.80" stroke="#000" stroke-width="1.9"/>
<text x="455.00" y="512.20" font-size="11.4" text-anchor="middle">50</text>
<line x1="347.50" y1="496.30" x2="344.50" y2="496.30" stroke="#000" stroke-width="1.9"/>
<text x="342.40" y="500.00" font-size="11.4" text-anchor="end">0.4</text>
<line x1="347.50" y1="476.27" x2="344.50" y2="476.27" stroke="#000" stroke-width="1.9"/>
<text x="342.40" y="479.97" font-size="11.4" text-anchor="end">0.5</text>
<line x1="347.50" y1="456.25" x2="344.50" y2="456.25" stroke="#000" stroke-width="1.9"/>
<text x="342.40" y="459.95" font-size="11.4" text-anchor="end">0.6</text>
<line x1="347.50" y1="436.22" x2="344.50" y2="436.22" stroke="#000" stroke-width="1.9"/>
<text x="342.40" y="439.92" font-size="11.4" text-anchor="end">0.7</text>
<line x1="347.50" y1="416.20" x2="344.50" y2="416.20" stroke="#000" stroke-width="1.9"/>
<text x="342.40" y="419.90" font-size="11.4" text-anchor="end">0.8</text>
<text x="453.60" y="492.90" font-size="15.2" fill="#dc2637" text-anchor="end">.264**</text>
<g>
<circle cx="519.85" cy="425.93" r="2.4"/>
<circle cx="529.42" cy="427.91" r="2.4"/>
<circle cx="554.47" cy="425.93" r="2.4"/>
<circle cx="523.65" cy="432.01" r="2.4"/>
<circle cx="533.52" cy="433.53" r="2.4"/>
<circle cx="537.31" cy="432.92" r="2.4"/>
<circle cx="570.42" cy="433.98" r="2.4"/>
<circle cx="579.07" cy="433.98" r="2.4"/>
<circle cx="538.07" cy="435.50" r="2.4"/>
<circle cx="561.91" cy="437.02" r="2.4"/>
<circle cx="561.16" cy="439.30" r="2.4"/>
<circle cx="517.57" cy="437.78" r="2.4"/>
<circle cx="521.37" cy="437.02" r="2.4"/>
<circle cx="526.69" cy="438.54" r="2.4"/>
<circle cx="535.04" cy="437.78" r="2.4"/>
<circle cx="539.59" cy="438.54" r="2.4"/>
<circle cx="550.98" cy="439.30" r="2.4"/>
<circle cx="546.88" cy="441.57" r="2.4"/>
<circle cx="555.23" cy="441.12" r="2.4"/>
<circle cx="516.81" cy="440.81" r="2.4"/>
<circle cx="521.37" cy="441.57" r="2.4"/>
<circle cx="525.17" cy="442.33" r="2.4"/>
<circle cx="531.24" cy="442.03" r="2.4"/>
<circle cx="537.31" cy="443.09" r="2.4"/>
<circle cx="496.01" cy="446.89" r="2.4"/>
<circle cx="504.97" cy="446.89" r="2.4"/>
<circle cx="508.46" cy="445.37" r="2.4"/>
<circle cx="502.39" cy="449.93" r="2.4"/>
<circle cx="513.78" cy="446.13" r="2.4"/>
<circle cx="518.33" cy="445.37" r="2.4"/>
<circle cx="522.89" cy="446.13" r="2.4"/>
<circle cx="527.44" cy="446.89" r="2.4"/>
<circle cx="532.00" cy="446.13" r="2.4"/>
<circle cx="536.56" cy="446.89" r="2.4"/>
<circle cx="541.87" cy="446.89" r="2.4"/>
<circle cx="554.78" cy="449.93" r="2.4"/>
<circle cx="557.81" cy="449.62" r="2.4"/>
<circle cx="514.54" cy="449.93" r="2.4"/>
<circle cx="519.09" cy="449.17" r="2.4"/>
<circle cx="523.65" cy="450.23" r="2.4"/>
<circle cx="528.96" cy="449.62" r="2.4"/>
<circle cx="535.04" cy="450.69" r="2.4"/>
<circle cx="539.59" cy="449.93" r="2.4"/>
<circle cx="545.67" cy="452.20" r="2.4"/>
<circle cx="513.78" cy="452.96" r="2.4"/>
<circle cx="518.33" cy="453.72" r="2.4"/>
<circle cx="522.89" cy="452.96" r="2.4"/>
<circle cx="527.44" cy="453.72" r="2.4"/>
<circle cx="536.56" cy="453.72" r="2.4"/>
<circle cx="509.98" cy="456.76" r="2.4"/>
<circle cx="514.54" cy="456.76" r="2.4"/>
<circle cx="519.09" cy="457.21" r="2.4"/>
<circle cx="523.65" cy="456.76" r="2.4"/>
<circle cx="540.35" cy="456.30" r="2.4"/>
<circle cx="512.26" cy="459.80" r="2.4"/>
<circle cx="516.81" cy="459.04" r="2.4"/>
<circle cx="521.37" cy="459.80" r="2.4"/>
<circle cx="525.93" cy="459.04" r="2.4"/>
<circle cx="534.28" cy="459.34" r="2.4"/>
<circle cx="507.40" cy="462.07" r="2.4"/>
<circle cx="511.50" cy="462.83" r="2.4"/>
<circle cx="523.65" cy="462.83" r="2.4"/>
<circle cx="538.83" cy="461.77" r="2.4"/>
<circle cx="513.78" cy="465.11" r="2.4"/>
<circle cx="526.69" cy="464.35" r="2.4"/>
<circle cx="532.76" cy="464.81" r="2.4"/>
<circle cx="523.65" cy="467.39" r="2.4"/>
<circle cx="520.61" cy="470.43" r="2.4"/>
<circle cx="528.51" cy="469.97" r="2.4"/>
<circle cx="512.26" cy="470.43" r="2.4"/>
<circle cx="515.30" cy="471.94" r="2.4"/>
<circle cx="500.87" cy="472.40" r="2.4"/>
<circle cx="505.43" cy="472.40" r="2.4"/>
<circle cx="508.46" cy="475.74" r="2.4"/>
<circle cx="503.91" cy="476.96" r="2.4"/>
<circle cx="531.70" cy="476.04" r="2.4"/>
<circle cx="533.52" cy="443.85" r="2.4"/>
<circle cx="536.10" cy="445.37" r="2.4"/>
<circle cx="538.38" cy="449.17" r="2.4"/>
<circle cx="534.28" cy="452.20" r="2.4"/>
<circle cx="531.24" cy="449.62" r="2.4"/>
<circle cx="539.90" cy="444.16" r="2.4"/>
<circle cx="536.56" cy="440.81" r="2.4"/>
<circle cx="532.76" cy="440.06" r="2.4"/>
<circle cx="532.86" cy="451.23" r="2.4"/>
<circle cx="522.14" cy="453.25" r="2.4"/>
<circle cx="535.26" cy="442.31" r="2.4"/>
<circle cx="538.13" cy="439.62" r="2.4"/>
<circle cx="531.44" cy="441.91" r="2.4"/>
<circle cx="529.22" cy="451.42" r="2.4"/>
<circle cx="525.32" cy="441.47" r="2.4"/>
<circle cx="519.34" cy="445.26" r="2.4"/>
<circle cx="526.95" cy="458.81" r="2.4"/>
<circle cx="526.95" cy="444.21" r="2.4"/>
<circle cx="528.69" cy="448.03" r="2.4"/>
<circle cx="518.44" cy="438.24" r="2.4"/>
<circle cx="523.15" cy="460.72" r="2.4"/>
<circle cx="518.12" cy="442.19" r="2.4"/>
<circle cx="535.13" cy="437.56" r="2.4"/>
<circle cx="538.32" cy="450.15" r="2.4"/>
<circle cx="520.49" cy="439.47" r="2.4"/>
<circle cx="525.31" cy="446.61" r="2.4"/>
<circle cx="532.96" cy="441.08" r="2.4"/>
<circle cx="523.07" cy="443.82" r="2.4"/>
<circle cx="534.79" cy="450.64" r="2.4"/>
<circle cx="515.76" cy="448.80" r="2.4"/>
</g>
<rect x="491.60" y="416.20" width="107.00" height="80.10" fill="none" stroke="#000" stroke-width="2.1"/>
<line x1="493.10" y1="417.55" x2="597.60" y2="417.55" stroke="#333" stroke-width="0.8" stroke-dasharray="3.3 1.4"/>
<line x1="491.60" y1="496.80" x2="491.60" y2="499.80" stroke="#000" stroke-width="1.9"/>
<text x="491.60" y="512.20" font-size="11.4" text-anchor="middle">0.20</text>
<line x1="527.27" y1="496.80" x2="527.27" y2="499.80" stroke="#000" stroke-width="1.9"/>
<text x="527.27" y="512.20" font-size="11.4" text-anchor="middle">0.25</text>
<line x1="562.93" y1="496.80" x2="562.93" y2="499.80" stroke="#000" stroke-width="1.9"/>
<text x="562.93" y="512.20" font-size="11.4" text-anchor="middle">0.30</text>
<line x1="598.60" y1="496.80" x2="598.60" y2="499.80" stroke="#000" stroke-width="1.9"/>
<text x="598.60" y="512.20" font-size="11.4" text-anchor="middle">0.35</text>
<line x1="491.10" y1="496.30" x2="488.10" y2="496.30" stroke="#000" stroke-width="1.9"/>
<text x="486.00" y="500.00" font-size="11.4" text-anchor="end">0.4</text>
<line x1="491.10" y1="476.27" x2="488.10" y2="476.27" stroke="#000" stroke-width="1.9"/>
<text x="486.00" y="479.97" font-size="11.4" text-anchor="end">0.5</text>
<line x1="491.10" y1="456.25" x2="488.10" y2="456.25" stroke="#000" stroke-width="1.9"/>
<text x="486.00" y="459.95" font-size="11.4" text-anchor="end">0.6</text>
<line x1="491.10" y1="436.22" x2="488.10" y2="436.22" stroke="#000" stroke-width="1.9"/>
<text x="486.00" y="439.92" font-size="11.4" text-anchor="end">0.7</text>
<line x1="491.10" y1="416.20" x2="488.10" y2="416.20" stroke="#000" stroke-width="1.9"/>
<text x="486.00" y="419.90" font-size="11.4" text-anchor="end">0.8</text>
<text x="597.20" y="492.90" font-size="15.2" fill="#dc2637" text-anchor="end">.446**</text>
<g>
<circle cx="714.99" cy="425.93" r="2.4"/>
<circle cx="721.21" cy="426.39" r="2.4"/>
<circle cx="715.75" cy="427.91" r="2.4"/>
<circle cx="707.85" cy="432.92" r="2.4"/>
<circle cx="713.93" cy="433.53" r="2.4"/>
<circle cx="704.06" cy="435.50" r="2.4"/>
<circle cx="712.41" cy="436.26" r="2.4"/>
<circle cx="689.93" cy="433.53" r="2.4"/>
<circle cx="693.43" cy="434.44" r="2.4"/>
<circle cx="691.15" cy="437.02" r="2.4"/>
<circle cx="686.59" cy="439.30" r="2.4"/>
<circle cx="682.04" cy="441.12" r="2.4"/>
<circle cx="700.26" cy="437.78" r="2.4"/>
<circle cx="704.81" cy="438.54" r="2.4"/>
<circle cx="696.46" cy="440.06" r="2.4"/>
<circle cx="701.02" cy="441.57" r="2.4"/>
<circle cx="707.09" cy="446.89" r="2.4"/>
<circle cx="675.20" cy="449.17" r="2.4"/>
<circle cx="699.50" cy="453.72" r="2.4"/>
<circle cx="649.84" cy="476.04" r="2.4"/>
<circle cx="660.02" cy="469.97" r="2.4"/>
<circle cx="665.33" cy="467.39" r="2.4"/>
<circle cx="660.78" cy="472.40" r="2.4"/>
<circle cx="664.57" cy="473.46" r="2.4"/>
<circle cx="669.13" cy="472.40" r="2.4"/>
<circle cx="660.47" cy="476.04" r="2.4"/>
<circle cx="665.64" cy="477.26" r="2.4"/>
<circle cx="662.30" cy="474.22" r="2.4"/>
<circle cx="668.37" cy="466.63" r="2.4"/>
<circle cx="670.65" cy="463.59" r="2.4"/>
<circle cx="672.93" cy="460.56" r="2.4"/>
<circle cx="675.20" cy="458.28" r="2.4"/>
<circle cx="677.48" cy="456.00" r="2.4"/>
<circle cx="679.76" cy="453.72" r="2.4"/>
<circle cx="682.04" cy="451.44" r="2.4"/>
<circle cx="684.31" cy="449.17" r="2.4"/>
<circle cx="686.59" cy="446.89" r="2.4"/>
<circle cx="688.87" cy="444.61" r="2.4"/>
<circle cx="691.15" cy="443.09" r="2.4"/>
<circle cx="693.43" cy="441.57" r="2.4"/>
<circle cx="695.70" cy="440.06" r="2.4"/>
<circle cx="697.98" cy="439.30" r="2.4"/>
<circle cx="670.65" cy="467.39" r="2.4"/>
<circle cx="673.69" cy="464.35" r="2.4"/>
<circle cx="676.72" cy="461.31" r="2.4"/>
<circle cx="679.00" cy="459.04" r="2.4"/>
<circle cx="681.28" cy="456.76" r="2.4"/>
<circle cx="683.56" cy="454.79" r="2.4"/>
<circle cx="685.83" cy="452.96" r="2.4"/>
<circle cx="688.11" cy="451.14" r="2.4"/>
<circle cx="690.39" cy="449.17" r="2.4"/>
<circle cx="692.67" cy="447.19" r="2.4"/>
<circle cx="694.94" cy="445.37" r="2.4"/>
<circle cx="697.22" cy="443.85" r="2.4"/>
<circle cx="699.50" cy="442.33" r="2.4"/>
<circle cx="701.78" cy="440.81" r="2.4"/>
<circle cx="667.61" cy="464.35" r="2.4"/>
<circle cx="669.89" cy="461.31" r="2.4"/>
<circle cx="672.17" cy="458.28" r="2.4"/>
<circle cx="674.44" cy="455.24" r="2.4"/>
<circle cx="676.72" cy="452.96" r="2.4"/>
<circle cx="679.00" cy="450.69" r="2.4"/>
<circle cx="681.28" cy="448.71" r="2.4"/>
<circle cx="683.56" cy="446.59" r="2.4"/>
<circle cx="685.83" cy="444.61" r="2.4"/>
<circle cx="688.11" cy="442.64" r="2.4"/>
<circle cx="690.39" cy="440.81" r="2.4"/>
<circle cx="692.67" cy="439.30" r="2.4"/>
<circle cx="675.20" cy="462.07" r="2.4"/>
<circle cx="678.24" cy="459.80" r="2.4"/>
<circle cx="683.56" cy="457.52" r="2.4"/>
<circle cx="688.11" cy="456.00" r="2.4"/>
<circle cx="691.15" cy="453.72" r="2.4"/>
<circle cx="694.19" cy="451.44" r="2.4"/>
<circle cx="696.46" cy="449.17" r="2.4"/>
<circle cx="698.74" cy="446.89" r="2.4"/>
<circle cx="700.26" cy="444.61" r="2.4"/>
<circle cx="702.54" cy="443.09" r="2.4"/>
<circle cx="673.69" cy="451.44" r="2.4"/>
<circle cx="675.96" cy="450.69" r="2.4"/>
<circle cx="672.17" cy="456.00" r="2.4"/>
<circle cx="663.92" cy="474.77" r="2.4"/>
<circle cx="692.79" cy="441.45" r="2.4"/>
<circle cx="681.55" cy="452.43" r="2.4"/>
<circle cx="676.25" cy="449.80" r="2.4"/>
<circle cx="674.51" cy="458.45" r="2.4"/>
<circle cx="682.15" cy="448.01" r="2.4"/>
<circle cx="700.86" cy="441.39" r="2.4"/>
<circle cx="682.60" cy="455.68" r="2.4"/>
<circle cx="700.42" cy="442.88" r="2.4"/>
<circle cx="688.53" cy="446.35" r="2.4"/>
<circle cx="670.60" cy="464.97" r="2.4"/>
<circle cx="679.01" cy="450.97" r="2.4"/>
<circle cx="686.09" cy="454.20" r="2.4"/>
<circle cx="698.15" cy="445.04" r="2.4"/>
<circle cx="703.28" cy="438.70" r="2.4"/>
</g>
<rect x="639.20" y="416.20" width="107.00" height="80.10" fill="none" stroke="#000" stroke-width="2.1"/>
<line x1="640.70" y1="417.55" x2="745.20" y2="417.55" stroke="#333" stroke-width="0.8" stroke-dasharray="3.3 1.4"/>
<line x1="639.20" y1="496.80" x2="639.20" y2="499.80" stroke="#000" stroke-width="1.9"/>
<text x="639.20" y="512.20" font-size="11.4" text-anchor="middle">0.2</text>
<line x1="665.95" y1="496.80" x2="665.95" y2="499.80" stroke="#000" stroke-width="1.9"/>
<text x="665.95" y="512.20" font-size="11.4" text-anchor="middle">0.3</text>
<line x1="692.70" y1="496.80" x2="692.70" y2="499.80" stroke="#000" stroke-width="1.9"/>
<text x="692.70" y="512.20" font-size="11.4" text-anchor="middle">0.4</text>
<line x1="719.45" y1="496.80" x2="719.45" y2="499.80" stroke="#000" stroke-width="1.9"/>
<text x="719.45" y="512.20" font-size="11.4" text-anchor="middle">0.5</text>
<line x1="746.20" y1="496.80" x2="746.20" y2="499.80" stroke="#000" stroke-width="1.9"/>
<text x="746.20" y="512.20" font-size="11.4" text-anchor="middle">0.6</text>
<line x1="638.70" y1="496.30" x2="635.70" y2="496.30" stroke="#000" stroke-width="1.9"/>
<text x="633.60" y="500.00" font-size="11.4" text-anchor="end">0.4</text>
<line x1="638.70" y1="476.27" x2="635.70" y2="476.27" stroke="#000" stroke-width="1.9"/>
<text x="633.60" y="479.97" font-size="11.4" text-anchor="end">0.5</text>
<line x1="638.70" y1="456.25" x2="635.70" y2="456.25" stroke="#000" stroke-width="1.9"/>
<text x="633.60" y="459.95" font-size="11.4" text-anchor="end">0.6</text>
<line x1="638.70" y1="436.22" x2="635.70" y2="436.22" stroke="#000" stroke-width="1.9"/>
<text x="633.60" y="439.92" font-size="11.4" text-anchor="end">0.7</text>
<line x1="638.70" y1="416.20" x2="635.70" y2="416.20" stroke="#000" stroke-width="1.9"/>
<text x="633.60" y="419.90" font-size="11.4" text-anchor="end">0.8</text>
<text x="744.80" y="492.90" font-size="15.2" fill="#dc2637" text-anchor="end">.894**</text>
<text transform="translate(72.2,535.7) translate(0.00,0) scale(0.938,1)" x="-1.21" y="0" font-size="18" font-weight="bold" stroke="#000" stroke-width="0.55" stroke-linejoin="round">R</text>
<text transform="translate(72.2,535.7) translate(12.20,2.6) scale(0.875,1)" x="-0.47" y="0" font-size="12" font-weight="bold" stroke="#000" stroke-width="0.35" stroke-linejoin="round">0</text>
<text transform="translate(72.2,535.7) translate(24.70,0) scale(0.629,1)" x="-1.01" y="0" font-size="18" font-weight="bold" stroke="#000" stroke-width="0.55" stroke-linejoin="round">[</text>
<text transform="translate(72.2,535.7) translate(30.10,0) scale(1.132,1)" x="-1.19" y="0" font-size="18" font-weight="bold" stroke="#000" stroke-width="0.55" stroke-linejoin="round">m</text>
<text transform="translate(72.2,535.7) translate(48.00,0) scale(1.132,1)" x="-1.19" y="0" font-size="18" font-weight="bold" stroke="#000" stroke-width="0.55" stroke-linejoin="round">m</text>
<text transform="translate(72.2,535.7) translate(65.90,0) scale(0.629,1)" x="-0.22" y="0" font-size="18" font-weight="bold" stroke="#000" stroke-width="0.55" stroke-linejoin="round">]</text>
<text transform="translate(219.0,535.7) translate(0.00,0) scale(0.955,1)" x="-1.21" y="0" font-size="18" font-weight="bold" stroke="#000" stroke-width="0.55" stroke-linejoin="round">R</text>
<text transform="translate(219.0,535.7) translate(11.90,2.0) scale(0.933,1)" x="-0.86" y="0" font-size="13" font-weight="normal" stroke="#000" stroke-width="0.25" stroke-linejoin="round">m</text>
<text transform="translate(219.0,535.7) translate(22.90,0) scale(0.629,1)" x="-1.01" y="0" font-size="18" font-weight="bold" stroke="#000" stroke-width="0.55" stroke-linejoin="round">[</text>
<text transform="translate(219.0,535.7) translate(28.30,0) scale(1.132,1)" x="-1.19" y="0" font-size="18" font-weight="bold" stroke="#000" stroke-width="0.55" stroke-linejoin="round">m</text>
<text transform="translate(219.0,535.7) translate(46.20,0) scale(1.132,1)" x="-1.19" y="0" font-size="18" font-weight="bold" stroke="#000" stroke-width="0.55" stroke-linejoin="round">m</text>
<text transform="translate(219.0,535.7) translate(64.70,0) scale(0.629,1)" x="-0.22" y="0" font-size="18" font-weight="bold" stroke="#000" stroke-width="0.55" stroke-linejoin="round">]</text>
<text transform="translate(373.5,535.9) translate(0.00,0) scale(0.841,1)" x="-0.74" y="0" font-size="18" font-weight="bold" stroke="#000" stroke-width="0.55" stroke-linejoin="round">C</text>
<text transform="translate(373.5,535.9) translate(11.90,1.2) scale(1.056,1)" x="-0.40" y="0" font-size="11" font-weight="normal" stroke="#000" stroke-width="0.25" stroke-linejoin="round">%</text>
<text transform="translate(373.5,535.9) translate(23.80,0) scale(0.629,1)" x="-1.01" y="0" font-size="18" font-weight="bold" stroke="#000" stroke-width="0.55" stroke-linejoin="round">[</text>
<text transform="translate(373.5,535.9) translate(27.80,0) scale(1.187,1)" x="-0.45" y="0" font-size="18" font-weight="bold" stroke="#000" stroke-width="0.55" stroke-linejoin="round">%</text>
<text transform="translate(373.5,535.9) translate(48.70,0) scale(0.629,1)" x="-0.22" y="0" font-size="18" font-weight="bold" stroke="#000" stroke-width="0.55" stroke-linejoin="round">]</text>
<text transform="translate(528.4,535.9) translate(0.00,0) scale(1.169,1)" x="-0.22" y="0" font-size="18" font-weight="bold" stroke="#000" stroke-width="0.55" stroke-linejoin="round">t</text>
<text transform="translate(528.4,535.9) translate(8.00,2.0) scale(0.883,1)" x="-0.93" y="0" font-size="11.3" font-weight="normal" stroke="#000" stroke-width="0.25" stroke-linejoin="round">L</text>
<text transform="translate(528.4,535.9) translate(14.90,0) scale(0.629,1)" x="-1.01" y="0" font-size="18" font-weight="bold" stroke="#000" stroke-width="0.55" stroke-linejoin="round">[</text>
<text transform="translate(528.4,535.9) translate(19.40,0) scale(0.984,1)" x="-0.63" y="0" font-size="18" font-weight="bold" stroke="#000" stroke-width="0.55" stroke-linejoin="round">s</text>
<text transform="translate(528.4,535.9) translate(30.80,0) scale(0.629,1)" x="-0.22" y="0" font-size="18" font-weight="bold" stroke="#000" stroke-width="0.55" stroke-linejoin="round">]</text>
<text transform="translate(674.4,535.9) translate(0.00,0) scale(1.169,1)" x="-0.22" y="0" font-size="18" font-weight="bold" stroke="#000" stroke-width="0.55" stroke-linejoin="round">t</text>
<text transform="translate(674.4,535.9) translate(7.70,2.2) scale(0.920,1)" x="-0.59" y="0" font-size="11.5" font-weight="normal" stroke="#000" stroke-width="0.25" stroke-linejoin="round">C</text>
<text transform="translate(674.4,535.9) translate(15.90,0) scale(0.629,1)" x="-1.01" y="0" font-size="18" font-weight="bold" stroke="#000" stroke-width="0.55" stroke-linejoin="round">[</text>
<text transform="translate(674.4,535.9) translate(20.40,0) scale(0.984,1)" x="-0.63" y="0" font-size="18" font-weight="bold" stroke="#000" stroke-width="0.55" stroke-linejoin="round">s</text>
<text transform="translate(674.4,535.9) translate(31.80,0) scale(0.629,1)" x="-0.22" y="0" font-size="18" font-weight="bold" stroke="#000" stroke-width="0.55" stroke-linejoin="round">]</text>
<text transform="translate(14.5,81.1) rotate(-90) translate(0.00,0) scale(0.955,1)" x="-1.21" y="0" font-size="18" font-weight="bold" stroke="#000" stroke-width="0.55" stroke-linejoin="round">R</text>
<text transform="translate(14.5,81.1) rotate(-90) translate(11.50,2.8) scale(0.852,1)" x="-0.83" y="0" font-size="12.5" font-weight="bold" stroke="#000" stroke-width="0.35" stroke-linejoin="round">m</text>
<text transform="translate(14.5,81.1) rotate(-90) translate(22.90,0) scale(0.629,1)" x="-1.01" y="0" font-size="18" font-weight="bold" stroke="#000" stroke-width="0.55" stroke-linejoin="round">[</text>
<text transform="translate(14.5,81.1) rotate(-90) translate(28.30,0) scale(1.132,1)" x="-1.19" y="0" font-size="18" font-weight="bold" stroke="#000" stroke-width="0.55" stroke-linejoin="round">m</text>
<text transform="translate(14.5,81.1) rotate(-90) translate(46.20,0) scale(1.132,1)" x="-1.19" y="0" font-size="18" font-weight="bold" stroke="#000" stroke-width="0.55" stroke-linejoin="round">m</text>
<text transform="translate(14.5,81.1) rotate(-90) translate(64.70,0) scale(0.629,1)" x="-0.22" y="0" font-size="18" font-weight="bold" stroke="#000" stroke-width="0.55" stroke-linejoin="round">]</text>
<text transform="translate(16.4,174.2) rotate(-90) translate(0.00,0) scale(0.841,1)" x="-0.74" y="0" font-size="18" font-weight="bold" stroke="#000" stroke-width="0.55" stroke-linejoin="round">C</text>
<text transform="translate(16.4,174.2) rotate(-90) translate(11.90,1.2) scale(1.056,1)" x="-0.40" y="0" font-size="11" font-weight="normal" stroke="#000" stroke-width="0.25" stroke-linejoin="round">%</text>
<text transform="translate(16.4,174.2) rotate(-90) translate(23.80,0) scale(0.629,1)" x="-1.01" y="0" font-size="18" font-weight="bold" stroke="#000" stroke-width="0.55" stroke-linejoin="round">[</text>
<text transform="translate(16.4,174.2) rotate(-90) translate(27.80,0) scale(1.187,1)" x="-0.45" y="0" font-size="18" font-weight="bold" stroke="#000" stroke-width="0.55" stroke-linejoin="round">%</text>
<text transform="translate(16.4,174.2) rotate(-90) translate(48.70,0) scale(0.629,1)" x="-0.22" y="0" font-size="18" font-weight="bold" stroke="#000" stroke-width="0.55" stroke-linejoin="round">]</text>
<text transform="translate(15.3,270.8) rotate(-90) translate(0.00,0) scale(1.169,1)" x="-0.22" y="0" font-size="18" font-weight="bold" stroke="#000" stroke-width="0.55" stroke-linejoin="round">t</text>
<text transform="translate(15.3,270.8) rotate(-90) translate(8.00,2.0) scale(0.883,1)" x="-0.93" y="0" font-size="11.3" font-weight="normal" stroke="#000" stroke-width="0.25" stroke-linejoin="round">L</text>
<text transform="translate(15.3,270.8) rotate(-90) translate(14.90,0) scale(0.629,1)" x="-1.01" y="0" font-size="18" font-weight="bold" stroke="#000" stroke-width="0.55" stroke-linejoin="round">[</text>
<text transform="translate(15.3,270.8) rotate(-90) translate(19.40,0) scale(0.984,1)" x="-0.63" y="0" font-size="18" font-weight="bold" stroke="#000" stroke-width="0.55" stroke-linejoin="round">s</text>
<text transform="translate(15.3,270.8) rotate(-90) translate(30.80,0) scale(0.629,1)" x="-0.22" y="0" font-size="18" font-weight="bold" stroke="#000" stroke-width="0.55" stroke-linejoin="round">]</text>
<text transform="translate(15.3,369.7) rotate(-90) translate(0.00,0) scale(1.169,1)" x="-0.22" y="0" font-size="18" font-weight="bold" stroke="#000" stroke-width="0.55" stroke-linejoin="round">t</text>
<text transform="translate(15.3,369.7) rotate(-90) translate(7.70,2.2) scale(0.920,1)" x="-0.59" y="0" font-size="11.5" font-weight="normal" stroke="#000" stroke-width="0.25" stroke-linejoin="round">C</text>
<text transform="translate(15.3,369.7) rotate(-90) translate(15.90,0) scale(0.629,1)" x="-1.01" y="0" font-size="18" font-weight="bold" stroke="#000" stroke-width="0.55" stroke-linejoin="round">[</text>
<text transform="translate(15.3,369.7) rotate(-90) translate(20.40,0) scale(0.984,1)" x="-0.63" y="0" font-size="18" font-weight="bold" stroke="#000" stroke-width="0.55" stroke-linejoin="round">s</text>
<text transform="translate(15.3,369.7) rotate(-90) translate(31.80,0) scale(0.629,1)" x="-0.22" y="0" font-size="18" font-weight="bold" stroke="#000" stroke-width="0.55" stroke-linejoin="round">]</text>
<text transform="translate(14.9,471.2) rotate(-90) translate(0.00,0) scale(1.169,1)" x="-0.22" y="0" font-size="18" font-weight="bold" stroke="#000" stroke-width="0.55" stroke-linejoin="round">t</text>
<text transform="translate(14.9,471.2) rotate(-90) translate(7.40,2.3) scale(0.912,1)" x="-0.98" y="0" font-size="12" font-weight="normal" stroke="#000" stroke-width="0.25" stroke-linejoin="round">R</text>
<text transform="translate(14.9,471.2) rotate(-90) translate(16.20,0) scale(0.650,1)" x="-1.01" y="0" font-size="18" font-weight="bold" stroke="#000" stroke-width="0.55" stroke-linejoin="round">[</text>
<text transform="translate(14.9,471.2) rotate(-90) translate(21.30,0) scale(0.845,1)" x="-0.63" y="0" font-size="18" font-weight="bold" stroke="#000" stroke-width="0.55" stroke-linejoin="round">s</text>
<text transform="translate(14.9,471.2) rotate(-90) translate(31.30,0) scale(0.671,1)" x="-0.22" y="0" font-size="18" font-weight="bold" stroke="#000" stroke-width="0.55" stroke-linejoin="round">]</text>
</g></svg></body></html>
